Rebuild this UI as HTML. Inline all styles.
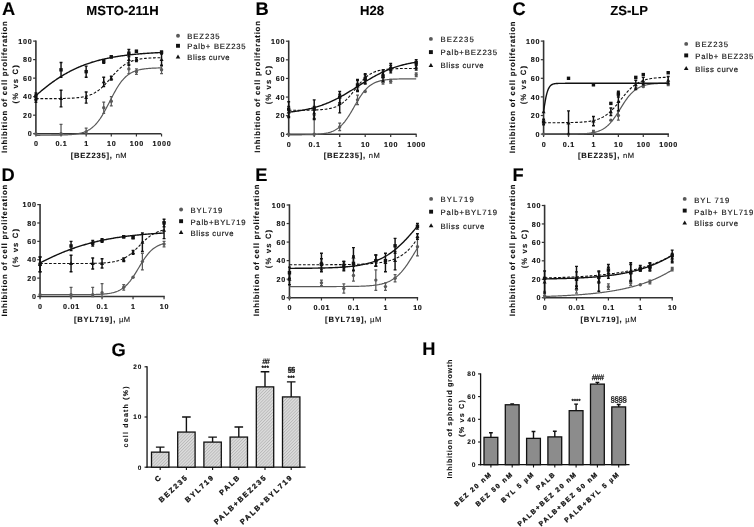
<!DOCTYPE html><html><head><meta charset="utf-8"><style>html,body{margin:0;padding:0;background:#fff;width:754px;height:527px;overflow:hidden}svg{display:block;will-change:transform}</style></head><body><svg width="754" height="527" viewBox="0 0 754 527" font-family='"Liberation Sans", sans-serif' style="text-rendering:geometricPrecision">
<defs><pattern id="hatch" patternUnits="userSpaceOnUse" width="2.2" height="2.2" patternTransform="rotate(45)"><rect width="2.2" height="2.2" fill="#dcdcdc"/><rect width="0.8" height="2.2" fill="#b8b8b8"/></pattern></defs>
<style>text{stroke:#111;stroke-width:0.12px}</style>
<rect width="754" height="527" fill="#ffffff"/>
<text x="1.90" y="14.90" font-size="18.30" font-weight="bold" text-anchor="start" letter-spacing="0.00" fill="#000">A</text>
<text x="255.40" y="14.90" font-size="18.30" font-weight="bold" text-anchor="start" letter-spacing="0.00" fill="#000">B</text>
<text x="512.60" y="14.90" font-size="18.30" font-weight="bold" text-anchor="start" letter-spacing="0.00" fill="#000">C</text>
<text x="1.45" y="180.70" font-size="18.30" font-weight="bold" text-anchor="start" letter-spacing="0.00" fill="#000">D</text>
<text x="255.15" y="180.70" font-size="18.30" font-weight="bold" text-anchor="start" letter-spacing="0.00" fill="#000">E</text>
<text x="512.55" y="180.70" font-size="18.30" font-weight="bold" text-anchor="start" letter-spacing="0.00" fill="#000">F</text>
<text x="111.40" y="355.60" font-size="18.30" font-weight="bold" text-anchor="start" letter-spacing="0.00" fill="#000">G</text>
<text x="422.25" y="355.20" font-size="18.30" font-weight="bold" text-anchor="start" letter-spacing="0.00" fill="#000">H</text>
<text x="122.50" y="14.90" font-size="13.10" font-weight="bold" text-anchor="middle" letter-spacing="0.00" fill="#000">MSTO-211H</text>
<text x="372.00" y="14.90" font-size="13.10" font-weight="bold" text-anchor="middle" letter-spacing="0.00" fill="#000">H28</text>
<text x="629.20" y="14.90" font-size="13.10" font-weight="bold" text-anchor="middle" letter-spacing="0.00" fill="#000">ZS-LP</text>
<path d="M35.90 40.40 V134.50" stroke="#333" stroke-width="1.6" fill="none"/>
<path d="M33.10 133.70 H35.90" stroke="#333" stroke-width="1.2"/>
<text x="32.50" y="136.30" font-size="7.20" font-weight="bold" text-anchor="end" letter-spacing="0.75" fill="#111">0</text>
<path d="M33.10 115.18 H35.90" stroke="#333" stroke-width="1.2"/>
<text x="32.50" y="117.78" font-size="7.20" font-weight="bold" text-anchor="end" letter-spacing="0.75" fill="#111">20</text>
<path d="M33.10 96.66 H35.90" stroke="#333" stroke-width="1.2"/>
<text x="32.50" y="99.26" font-size="7.20" font-weight="bold" text-anchor="end" letter-spacing="0.75" fill="#111">40</text>
<path d="M33.10 78.14 H35.90" stroke="#333" stroke-width="1.2"/>
<text x="32.50" y="80.74" font-size="7.20" font-weight="bold" text-anchor="end" letter-spacing="0.75" fill="#111">60</text>
<path d="M33.10 59.62 H35.90" stroke="#333" stroke-width="1.2"/>
<text x="32.50" y="62.22" font-size="7.20" font-weight="bold" text-anchor="end" letter-spacing="0.75" fill="#111">80</text>
<path d="M33.10 41.10 H35.90" stroke="#333" stroke-width="1.2"/>
<text x="32.50" y="43.70" font-size="7.20" font-weight="bold" text-anchor="end" letter-spacing="0.75" fill="#111">100</text>
<path d="M35.10 133.70 H161.20" stroke="#333" stroke-width="1.6"/>
<path d="M35.90 133.70 V136.50" stroke="#333" stroke-width="1.2"/>
<text x="36.30" y="146.20" font-size="7.20" font-weight="bold" text-anchor="middle" letter-spacing="0.70" fill="#111">0</text>
<path d="M61.03 133.70 V136.50" stroke="#333" stroke-width="1.2"/>
<text x="61.43" y="146.20" font-size="7.20" font-weight="bold" text-anchor="middle" letter-spacing="0.70" fill="#111">0.1</text>
<path d="M86.16 133.70 V136.50" stroke="#333" stroke-width="1.2"/>
<text x="86.56" y="146.20" font-size="7.20" font-weight="bold" text-anchor="middle" letter-spacing="0.70" fill="#111">1</text>
<path d="M111.29 133.70 V136.50" stroke="#333" stroke-width="1.2"/>
<text x="111.69" y="146.20" font-size="7.20" font-weight="bold" text-anchor="middle" letter-spacing="0.70" fill="#111">10</text>
<path d="M136.42 133.70 V136.50" stroke="#333" stroke-width="1.2"/>
<text x="136.82" y="146.20" font-size="7.20" font-weight="bold" text-anchor="middle" letter-spacing="0.70" fill="#111">100</text>
<path d="M161.55 133.70 V136.50" stroke="#333" stroke-width="1.2"/>
<text x="161.95" y="146.20" font-size="7.20" font-weight="bold" text-anchor="middle" letter-spacing="0.70" fill="#111">1000</text>
<text x="70.70" y="158.20" font-size="7.6" letter-spacing="0.78" fill="#111"><tspan font-weight="bold">[BEZ235], </tspan><tspan letter-spacing="0.5">nM</tspan></text>
<text transform="translate(6.90 87.15) rotate(-90)" font-size="7.7" font-weight="bold" text-anchor="middle" textLength="131.6" lengthAdjust="spacing" fill="#111">Inhibition of cell proliferation</text>
<text transform="translate(18.00 84.40) rotate(-90)" font-size="7.7" font-weight="bold" text-anchor="middle" textLength="38.3" lengthAdjust="spacing" fill="#111">(% vs C)</text>
<path d="M35.90 135.28 L36.69 135.28 L37.48 135.28 L38.27 135.28 L39.06 135.28 L39.85 135.28 L40.64 135.27 L41.43 135.27 L42.22 135.27 L43.01 135.27 L43.80 135.27 L44.59 135.26 L45.38 135.26 L46.17 135.26 L46.96 135.25 L47.75 135.25 L48.54 135.24 L49.33 135.24 L50.12 135.23 L50.91 135.23 L51.71 135.22 L52.50 135.21 L53.29 135.20 L54.08 135.19 L54.87 135.18 L55.66 135.17 L56.45 135.16 L57.24 135.15 L58.03 135.14 L58.82 135.12 L59.61 135.10 L60.40 135.08 L61.19 135.06 L61.98 135.04 L62.77 135.02 L63.56 134.99 L64.35 134.96 L65.14 134.93 L65.93 134.89 L66.72 134.85 L67.51 134.81 L68.30 134.77 L69.09 134.71 L69.88 134.66 L70.67 134.60 L71.46 134.53 L72.25 134.46 L73.04 134.38 L73.83 134.29 L74.62 134.20 L75.41 134.09 L76.20 133.98 L76.99 133.85 L77.78 133.72 L78.57 133.57 L79.36 133.40 L80.15 133.23 L80.94 133.03 L81.73 132.82 L82.52 132.59 L83.32 132.34 L84.11 132.07 L84.90 131.78 L85.69 131.46 L86.48 131.11 L87.27 130.73 L88.06 130.32 L88.85 129.88 L89.64 129.40 L90.43 128.89 L91.22 128.33 L92.01 127.73 L92.80 127.09 L93.59 126.40 L94.38 125.66 L95.17 124.87 L95.96 124.03 L96.75 123.14 L97.54 122.19 L98.33 121.19 L99.12 120.13 L99.91 119.02 L100.70 117.85 L101.49 116.63 L102.28 115.36 L103.07 114.04 L103.86 112.67 L104.65 111.26 L105.44 109.82 L106.23 108.34 L107.02 106.83 L107.81 105.30 L108.60 103.75 L109.39 102.20 L110.18 100.64 L110.97 99.08 L111.76 97.54 L112.55 96.01 L113.34 94.51 L114.13 93.03 L114.93 91.59 L115.72 90.18 L116.51 88.82 L117.30 87.51 L118.09 86.24 L118.88 85.03 L119.67 83.87 L120.46 82.76 L121.25 81.71 L122.04 80.72 L122.83 79.78 L123.62 78.89 L124.41 78.06 L125.20 77.28 L125.99 76.54 L126.78 75.86 L127.57 75.22 L128.36 74.63 L129.15 74.08 L129.94 73.57 L130.73 73.10 L131.52 72.66 L132.31 72.25 L133.10 71.88 L133.89 71.54 L134.68 71.22 L135.47 70.93 L136.26 70.66 L137.05 70.41 L137.84 70.18 L138.63 69.97 L139.42 69.78 L140.21 69.61 L141.00 69.45 L141.79 69.30 L142.58 69.17 L143.37 69.04 L144.16 68.93 L144.95 68.83 L145.74 68.73 L146.54 68.64 L147.33 68.57 L148.12 68.49 L148.91 68.43 L149.70 68.37 L150.49 68.31 L151.28 68.26 L152.07 68.22 L152.86 68.17 L153.65 68.14 L154.44 68.10 L155.23 68.07 L156.02 68.04 L156.81 68.01 L157.60 67.99 L158.39 67.97 L159.18 67.95 L159.97 67.93 L160.76 67.91 L161.55 67.90" fill="none" stroke="#595959" stroke-width="1.20"/>
<circle cx="35.90" cy="133.70" r="1.70" fill="#595959"/>
<path d="M61.03 124.44 V133.70 M59.58 124.44 H62.48 M59.58 133.70 H62.48" stroke="#595959" stroke-width="1.25" fill="none"/>
<circle cx="61.03" cy="133.70" r="1.70" fill="#595959"/>
<path d="M86.16 128.14 V133.70 M84.71 128.14 H87.61 M84.71 133.70 H87.61" stroke="#595959" stroke-width="1.25" fill="none"/>
<circle cx="86.16" cy="131.85" r="1.70" fill="#595959"/>
<path d="M103.73 102.22 V113.33 M102.28 102.22 H105.18 M102.28 113.33 H105.18" stroke="#595959" stroke-width="1.25" fill="none"/>
<circle cx="103.73" cy="107.77" r="1.70" fill="#595959"/>
<path d="M111.29 96.66 V105.92 M109.84 96.66 H112.74 M109.84 105.92 H112.74" stroke="#595959" stroke-width="1.25" fill="none"/>
<circle cx="111.29" cy="101.29" r="1.70" fill="#595959"/>
<path d="M128.86 64.25 V73.51 M127.41 64.25 H130.31 M127.41 73.51 H130.31" stroke="#595959" stroke-width="1.25" fill="none"/>
<circle cx="128.86" cy="68.88" r="1.70" fill="#595959"/>
<path d="M136.42 68.88 V74.44 M134.97 68.88 H137.87 M134.97 74.44 H137.87" stroke="#595959" stroke-width="1.25" fill="none"/>
<circle cx="136.42" cy="71.66" r="1.70" fill="#595959"/>
<path d="M161.55 66.10 V73.51 M160.10 66.10 H163.00 M160.10 73.51 H163.00" stroke="#595959" stroke-width="1.25" fill="none"/>
<circle cx="161.55" cy="69.81" r="1.70" fill="#595959"/>
<path d="M35.90 98.66 L36.69 98.66 L37.48 98.66 L38.27 98.66 L39.06 98.66 L39.85 98.65 L40.64 98.65 L41.43 98.65 L42.22 98.65 L43.01 98.65 L43.80 98.65 L44.59 98.64 L45.38 98.64 L46.17 98.64 L46.96 98.64 L47.75 98.63 L48.54 98.63 L49.33 98.63 L50.12 98.62 L50.91 98.62 L51.71 98.61 L52.50 98.61 L53.29 98.60 L54.08 98.60 L54.87 98.59 L55.66 98.58 L56.45 98.58 L57.24 98.57 L58.03 98.56 L58.82 98.55 L59.61 98.54 L60.40 98.52 L61.19 98.51 L61.98 98.50 L62.77 98.48 L63.56 98.46 L64.35 98.44 L65.14 98.42 L65.93 98.40 L66.72 98.38 L67.51 98.35 L68.30 98.32 L69.09 98.29 L69.88 98.25 L70.67 98.21 L71.46 98.17 L72.25 98.13 L73.04 98.08 L73.83 98.02 L74.62 97.96 L75.41 97.90 L76.20 97.83 L76.99 97.75 L77.78 97.67 L78.57 97.58 L79.36 97.48 L80.15 97.38 L80.94 97.26 L81.73 97.14 L82.52 97.00 L83.32 96.85 L84.11 96.69 L84.90 96.52 L85.69 96.33 L86.48 96.13 L87.27 95.91 L88.06 95.67 L88.85 95.41 L89.64 95.14 L90.43 94.84 L91.22 94.52 L92.01 94.18 L92.80 93.81 L93.59 93.42 L94.38 93.00 L95.17 92.55 L95.96 92.07 L96.75 91.57 L97.54 91.03 L98.33 90.46 L99.12 89.87 L99.91 89.24 L100.70 88.58 L101.49 87.89 L102.28 87.17 L103.07 86.42 L103.86 85.64 L104.65 84.84 L105.44 84.02 L106.23 83.17 L107.02 82.30 L107.81 81.42 L108.60 80.53 L109.39 79.63 L110.18 78.72 L110.97 77.81 L111.76 76.90 L112.55 75.99 L113.34 75.09 L114.13 74.21 L114.93 73.34 L115.72 72.48 L116.51 71.65 L117.30 70.84 L118.09 70.06 L118.88 69.30 L119.67 68.57 L120.46 67.87 L121.25 67.20 L122.04 66.56 L122.83 65.95 L123.62 65.37 L124.41 64.83 L125.20 64.31 L125.99 63.82 L126.78 63.37 L127.57 62.94 L128.36 62.53 L129.15 62.16 L129.94 61.81 L130.73 61.48 L131.52 61.18 L132.31 60.89 L133.10 60.63 L133.89 60.39 L134.68 60.16 L135.47 59.95 L136.26 59.76 L137.05 59.58 L137.84 59.42 L138.63 59.26 L139.42 59.12 L140.21 58.99 L141.00 58.87 L141.79 58.77 L142.58 58.66 L143.37 58.57 L144.16 58.49 L144.95 58.41 L145.74 58.34 L146.54 58.27 L147.33 58.21 L148.12 58.15 L148.91 58.10 L149.70 58.06 L150.49 58.01 L151.28 57.97 L152.07 57.94 L152.86 57.91 L153.65 57.87 L154.44 57.85 L155.23 57.82 L156.02 57.80 L156.81 57.78 L157.60 57.76 L158.39 57.74 L159.18 57.72 L159.97 57.71 L160.76 57.69 L161.55 57.68" fill="none" stroke="#111111" stroke-width="1.10" stroke-dasharray="2.8 1.7"/>
<path d="M35.90 94.81 V102.22 M34.45 94.81 H37.35 M34.45 102.22 H37.35" stroke="#111111" stroke-width="1.45" fill="none"/>
<path d="M35.90 96.41 L33.90 100.01 L37.90 100.01 Z" fill="#111111"/>
<path d="M61.03 90.18 V106.85 M59.58 90.18 H62.48 M59.58 106.85 H62.48" stroke="#111111" stroke-width="1.45" fill="none"/>
<path d="M61.03 96.41 L59.03 100.01 L63.03 100.01 Z" fill="#111111"/>
<path d="M86.16 92.03 V103.14 M84.71 92.03 H87.61 M84.71 103.14 H87.61" stroke="#111111" stroke-width="1.45" fill="none"/>
<path d="M86.16 95.49 L84.16 99.09 L88.16 99.09 Z" fill="#111111"/>
<path d="M103.73 77.21 V86.47 M102.28 77.21 H105.18 M102.28 86.47 H105.18" stroke="#111111" stroke-width="1.45" fill="none"/>
<path d="M103.73 79.74 L101.73 83.34 L105.73 83.34 Z" fill="#111111"/>
<path d="M111.29 76.29 V79.99 M109.84 76.29 H112.74 M109.84 79.99 H112.74" stroke="#111111" stroke-width="1.45" fill="none"/>
<path d="M111.29 76.04 L109.29 79.64 L113.29 79.64 Z" fill="#111111"/>
<path d="M128.86 54.06 V65.18 M127.41 54.06 H130.31 M127.41 65.18 H130.31" stroke="#111111" stroke-width="1.45" fill="none"/>
<path d="M128.86 57.52 L126.86 61.12 L130.86 61.12 Z" fill="#111111"/>
<path d="M136.42 57.77 V61.47 M134.97 57.77 H137.87 M134.97 61.47 H137.87" stroke="#111111" stroke-width="1.45" fill="none"/>
<path d="M136.42 57.52 L134.42 61.12 L138.42 61.12 Z" fill="#111111"/>
<path d="M161.55 54.06 V65.18 M160.10 54.06 H163.00 M160.10 65.18 H163.00" stroke="#111111" stroke-width="1.45" fill="none"/>
<path d="M161.55 57.52 L159.55 61.12 L163.55 61.12 Z" fill="#111111"/>
<path d="M35.90 95.61 L36.69 94.91 L37.48 94.21 L38.27 93.52 L39.06 92.84 L39.85 92.16 L40.64 91.49 L41.43 90.82 L42.22 90.16 L43.01 89.51 L43.80 88.86 L44.59 88.22 L45.38 87.59 L46.17 86.96 L46.96 86.34 L47.75 85.73 L48.54 85.12 L49.33 84.52 L50.12 83.92 L50.91 83.34 L51.71 82.76 L52.50 82.18 L53.29 81.62 L54.08 81.06 L54.87 80.51 L55.66 79.97 L56.45 79.43 L57.24 78.90 L58.03 78.38 L58.82 77.86 L59.61 77.35 L60.40 76.85 L61.19 76.36 L61.98 75.87 L62.77 75.39 L63.56 74.92 L64.35 74.46 L65.14 74.00 L65.93 73.55 L66.72 73.10 L67.51 72.67 L68.30 72.24 L69.09 71.81 L69.88 71.40 L70.67 70.99 L71.46 70.58 L72.25 70.19 L73.04 69.80 L73.83 69.42 L74.62 69.04 L75.41 68.67 L76.20 68.31 L76.99 67.95 L77.78 67.60 L78.57 67.25 L79.36 66.92 L80.15 66.58 L80.94 66.26 L81.73 65.94 L82.52 65.62 L83.32 65.31 L84.11 65.01 L84.90 64.71 L85.69 64.42 L86.48 64.14 L87.27 63.86 L88.06 63.58 L88.85 63.31 L89.64 63.05 L90.43 62.79 L91.22 62.53 L92.01 62.28 L92.80 62.04 L93.59 61.80 L94.38 61.56 L95.17 61.33 L95.96 61.11 L96.75 60.89 L97.54 60.67 L98.33 60.46 L99.12 60.25 L99.91 60.05 L100.70 59.85 L101.49 59.65 L102.28 59.46 L103.07 59.27 L103.86 59.09 L104.65 58.91 L105.44 58.73 L106.23 58.56 L107.02 58.39 L107.81 58.23 L108.60 58.07 L109.39 57.91 L110.18 57.75 L110.97 57.60 L111.76 57.45 L112.55 57.31 L113.34 57.17 L114.13 57.03 L114.93 56.89 L115.72 56.76 L116.51 56.63 L117.30 56.50 L118.09 56.38 L118.88 56.26 L119.67 56.14 L120.46 56.02 L121.25 55.91 L122.04 55.79 L122.83 55.69 L123.62 55.58 L124.41 55.48 L125.20 55.37 L125.99 55.27 L126.78 55.18 L127.57 55.08 L128.36 54.99 L129.15 54.90 L129.94 54.81 L130.73 54.72 L131.52 54.64 L132.31 54.55 L133.10 54.47 L133.89 54.39 L134.68 54.32 L135.47 54.24 L136.26 54.17 L137.05 54.09 L137.84 54.02 L138.63 53.95 L139.42 53.89 L140.21 53.82 L141.00 53.76 L141.79 53.69 L142.58 53.63 L143.37 53.57 L144.16 53.51 L144.95 53.45 L145.74 53.40 L146.54 53.34 L147.33 53.29 L148.12 53.24 L148.91 53.19 L149.70 53.14 L150.49 53.09 L151.28 53.04 L152.07 52.99 L152.86 52.95 L153.65 52.90 L154.44 52.86 L155.23 52.82 L156.02 52.78 L156.81 52.74 L157.60 52.70 L158.39 52.66 L159.18 52.62 L159.97 52.58 L160.76 52.55 L161.55 52.51" fill="none" stroke="#111111" stroke-width="1.40"/>
<path d="M35.90 92.96 V100.36 M34.45 92.96 H37.35 M34.45 100.36 H37.35" stroke="#111111" stroke-width="1.45" fill="none"/>
<rect x="34.20" y="94.96" width="3.40" height="3.40" fill="#111111"/>
<path d="M61.03 62.40 V77.21 M59.58 62.40 H62.48 M59.58 77.21 H62.48" stroke="#111111" stroke-width="1.45" fill="none"/>
<rect x="59.33" y="68.11" width="3.40" height="3.40" fill="#111111"/>
<path d="M86.16 66.10 V77.21 M84.71 66.10 H87.61 M84.71 77.21 H87.61" stroke="#111111" stroke-width="1.45" fill="none"/>
<rect x="84.46" y="69.96" width="3.40" height="3.40" fill="#111111"/>
<path d="M103.73 59.62 V63.32 M102.28 59.62 H105.18 M102.28 63.32 H105.18" stroke="#111111" stroke-width="1.45" fill="none"/>
<rect x="102.03" y="59.77" width="3.40" height="3.40" fill="#111111"/>
<path d="M111.29 55.92 V57.77 M109.84 55.92 H112.74 M109.84 57.77 H112.74" stroke="#111111" stroke-width="1.45" fill="none"/>
<rect x="109.59" y="55.14" width="3.40" height="3.40" fill="#111111"/>
<path d="M128.86 49.43 V56.84 M127.41 49.43 H130.31 M127.41 56.84 H130.31" stroke="#111111" stroke-width="1.45" fill="none"/>
<rect x="127.16" y="51.44" width="3.40" height="3.40" fill="#111111"/>
<path d="M136.42 50.36 V52.21 M134.97 50.36 H137.87 M134.97 52.21 H137.87" stroke="#111111" stroke-width="1.45" fill="none"/>
<rect x="134.72" y="49.59" width="3.40" height="3.40" fill="#111111"/>
<path d="M161.55 51.29 V53.14 M160.10 51.29 H163.00 M160.10 53.14 H163.00" stroke="#111111" stroke-width="1.45" fill="none"/>
<rect x="159.85" y="50.51" width="3.40" height="3.40" fill="#111111"/>
<circle cx="178.00" cy="35.80" r="1.95" fill="#595959"/>
<text x="187.30" y="38.90" font-size="7.7" textLength="32.30" lengthAdjust="spacing" fill="#1a1a1a" style="stroke-width:0.18px">BEZ235</text>
<rect x="176.04" y="43.84" width="3.91" height="3.91" fill="#111111"/>
<text x="187.30" y="49.40" font-size="7.7" textLength="58.20" lengthAdjust="spacing" fill="#1a1a1a" style="stroke-width:0.18px">Palb+ BEZ235</text>
<path d="M178.00 54.38 L175.70 58.52 L180.30 58.52 Z" fill="#111111"/>
<text x="187.30" y="59.50" font-size="7.7" textLength="42.30" lengthAdjust="spacing" fill="#1a1a1a" style="stroke-width:0.18px">Bliss curve</text>
<path d="M288.70 40.50 V135.10" stroke="#333" stroke-width="1.6" fill="none"/>
<path d="M285.90 134.30 H288.70" stroke="#333" stroke-width="1.2"/>
<text x="285.30" y="136.90" font-size="7.20" font-weight="bold" text-anchor="end" letter-spacing="0.75" fill="#111">0</text>
<path d="M285.90 115.68 H288.70" stroke="#333" stroke-width="1.2"/>
<text x="285.30" y="118.28" font-size="7.20" font-weight="bold" text-anchor="end" letter-spacing="0.75" fill="#111">20</text>
<path d="M285.90 97.06 H288.70" stroke="#333" stroke-width="1.2"/>
<text x="285.30" y="99.66" font-size="7.20" font-weight="bold" text-anchor="end" letter-spacing="0.75" fill="#111">40</text>
<path d="M285.90 78.44 H288.70" stroke="#333" stroke-width="1.2"/>
<text x="285.30" y="81.04" font-size="7.20" font-weight="bold" text-anchor="end" letter-spacing="0.75" fill="#111">60</text>
<path d="M285.90 59.82 H288.70" stroke="#333" stroke-width="1.2"/>
<text x="285.30" y="62.42" font-size="7.20" font-weight="bold" text-anchor="end" letter-spacing="0.75" fill="#111">80</text>
<path d="M285.90 41.20 H288.70" stroke="#333" stroke-width="1.2"/>
<text x="285.30" y="43.80" font-size="7.20" font-weight="bold" text-anchor="end" letter-spacing="0.75" fill="#111">100</text>
<path d="M287.90 134.30 H416.60" stroke="#333" stroke-width="1.6"/>
<path d="M288.70 134.30 V137.10" stroke="#333" stroke-width="1.2"/>
<text x="289.10" y="146.80" font-size="7.20" font-weight="bold" text-anchor="middle" letter-spacing="0.70" fill="#111">0</text>
<path d="M314.20 134.30 V137.10" stroke="#333" stroke-width="1.2"/>
<text x="314.60" y="146.80" font-size="7.20" font-weight="bold" text-anchor="middle" letter-spacing="0.70" fill="#111">0.1</text>
<path d="M339.70 134.30 V137.10" stroke="#333" stroke-width="1.2"/>
<text x="340.10" y="146.80" font-size="7.20" font-weight="bold" text-anchor="middle" letter-spacing="0.70" fill="#111">1</text>
<path d="M365.20 134.30 V137.10" stroke="#333" stroke-width="1.2"/>
<text x="365.60" y="146.80" font-size="7.20" font-weight="bold" text-anchor="middle" letter-spacing="0.70" fill="#111">10</text>
<path d="M390.70 134.30 V137.10" stroke="#333" stroke-width="1.2"/>
<text x="391.10" y="146.80" font-size="7.20" font-weight="bold" text-anchor="middle" letter-spacing="0.70" fill="#111">100</text>
<path d="M416.20 134.30 V137.10" stroke="#333" stroke-width="1.2"/>
<text x="416.60" y="146.80" font-size="7.20" font-weight="bold" text-anchor="middle" letter-spacing="0.70" fill="#111">1000</text>
<text x="323.80" y="158.40" font-size="7.6" letter-spacing="0.78" fill="#111"><tspan font-weight="bold">[BEZ235], </tspan><tspan letter-spacing="0.5">nM</tspan></text>
<text transform="translate(259.60 86.95) rotate(-90)" font-size="7.7" font-weight="bold" text-anchor="middle" textLength="131.6" lengthAdjust="spacing" fill="#111">Inhibition of cell proliferation</text>
<text transform="translate(270.80 85.20) rotate(-90)" font-size="7.7" font-weight="bold" text-anchor="middle" textLength="38.3" lengthAdjust="spacing" fill="#111">(% vs C)</text>
<path d="M288.70 134.84 L289.50 134.84 L290.30 134.83 L291.11 134.83 L291.91 134.83 L292.71 134.83 L293.51 134.83 L294.31 134.82 L295.12 134.82 L295.92 134.82 L296.72 134.81 L297.52 134.81 L298.32 134.80 L299.12 134.80 L299.93 134.79 L300.73 134.78 L301.53 134.78 L302.33 134.77 L303.13 134.76 L303.94 134.75 L304.74 134.74 L305.54 134.72 L306.34 134.71 L307.14 134.70 L307.95 134.68 L308.75 134.66 L309.55 134.64 L310.35 134.62 L311.15 134.59 L311.95 134.57 L312.76 134.54 L313.56 134.50 L314.36 134.47 L315.16 134.43 L315.96 134.38 L316.77 134.33 L317.57 134.28 L318.37 134.22 L319.17 134.15 L319.97 134.08 L320.78 134.00 L321.58 133.91 L322.38 133.81 L323.18 133.70 L323.98 133.58 L324.78 133.45 L325.59 133.31 L326.39 133.15 L327.19 132.98 L327.99 132.79 L328.79 132.58 L329.60 132.35 L330.40 132.10 L331.20 131.83 L332.00 131.53 L332.80 131.21 L333.61 130.85 L334.41 130.46 L335.21 130.04 L336.01 129.58 L336.81 129.08 L337.62 128.54 L338.42 127.96 L339.22 127.33 L340.02 126.66 L340.82 125.93 L341.62 125.15 L342.43 124.32 L343.23 123.44 L344.03 122.51 L344.83 121.52 L345.63 120.47 L346.44 119.38 L347.24 118.23 L348.04 117.04 L348.84 115.80 L349.64 114.52 L350.45 113.21 L351.25 111.87 L352.05 110.50 L352.85 109.11 L353.65 107.71 L354.45 106.31 L355.26 104.91 L356.06 103.52 L356.86 102.15 L357.66 100.80 L358.46 99.47 L359.27 98.19 L360.07 96.94 L360.87 95.73 L361.67 94.57 L362.47 93.46 L363.28 92.40 L364.08 91.40 L364.88 90.44 L365.68 89.55 L366.48 88.70 L367.28 87.91 L368.09 87.17 L368.89 86.48 L369.69 85.84 L370.49 85.25 L371.29 84.69 L372.10 84.18 L372.90 83.71 L373.70 83.28 L374.50 82.88 L375.30 82.52 L376.11 82.18 L376.91 81.88 L377.71 81.60 L378.51 81.34 L379.31 81.11 L380.12 80.89 L380.92 80.70 L381.72 80.52 L382.52 80.36 L383.32 80.21 L384.12 80.08 L384.93 79.95 L385.73 79.84 L386.53 79.74 L387.33 79.65 L388.13 79.57 L388.94 79.49 L389.74 79.43 L390.54 79.37 L391.34 79.31 L392.14 79.26 L392.95 79.21 L393.75 79.17 L394.55 79.13 L395.35 79.10 L396.15 79.07 L396.95 79.04 L397.76 79.01 L398.56 78.99 L399.36 78.97 L400.16 78.95 L400.96 78.93 L401.77 78.92 L402.57 78.90 L403.37 78.89 L404.17 78.88 L404.97 78.87 L405.78 78.86 L406.58 78.85 L407.38 78.84 L408.18 78.84 L408.98 78.83 L409.78 78.83 L410.59 78.82 L411.39 78.82 L412.19 78.81 L412.99 78.81 L413.79 78.80 L414.60 78.80 L415.40 78.80 L416.20 78.80" fill="none" stroke="#595959" stroke-width="1.20"/>
<circle cx="288.70" cy="134.30" r="1.70" fill="#595959"/>
<path d="M314.20 115.68 V134.30 M312.75 115.68 H315.65 M312.75 134.30 H315.65" stroke="#595959" stroke-width="1.25" fill="none"/>
<circle cx="314.20" cy="134.30" r="1.70" fill="#595959"/>
<path d="M339.70 123.13 V130.58 M338.25 123.13 H341.15 M338.25 130.58 H341.15" stroke="#595959" stroke-width="1.25" fill="none"/>
<circle cx="339.70" cy="126.85" r="1.70" fill="#595959"/>
<path d="M357.52 95.20 V104.51 M356.07 95.20 H358.97 M356.07 104.51 H358.97" stroke="#595959" stroke-width="1.25" fill="none"/>
<circle cx="357.52" cy="99.85" r="1.70" fill="#595959"/>
<circle cx="365.20" cy="91.47" r="1.70" fill="#595959"/>
<path d="M383.02 80.30 V84.03 M381.57 80.30 H384.47 M381.57 84.03 H384.47" stroke="#595959" stroke-width="1.25" fill="none"/>
<circle cx="383.02" cy="82.16" r="1.70" fill="#595959"/>
<path d="M390.70 79.37 V83.09 M389.25 79.37 H392.15 M389.25 83.09 H392.15" stroke="#595959" stroke-width="1.25" fill="none"/>
<circle cx="390.70" cy="81.23" r="1.70" fill="#595959"/>
<path d="M416.20 72.85 V76.58 M414.75 72.85 H417.65 M414.75 76.58 H417.65" stroke="#595959" stroke-width="1.25" fill="none"/>
<circle cx="416.20" cy="74.72" r="1.70" fill="#595959"/>
<path d="M288.70 110.26 L289.50 110.26 L290.30 110.25 L291.11 110.25 L291.91 110.25 L292.71 110.25 L293.51 110.25 L294.31 110.25 L295.12 110.24 L295.92 110.24 L296.72 110.24 L297.52 110.23 L298.32 110.23 L299.12 110.23 L299.93 110.22 L300.73 110.22 L301.53 110.21 L302.33 110.21 L303.13 110.20 L303.94 110.19 L304.74 110.18 L305.54 110.18 L306.34 110.17 L307.14 110.16 L307.95 110.14 L308.75 110.13 L309.55 110.12 L310.35 110.10 L311.15 110.08 L311.95 110.06 L312.76 110.04 L313.56 110.02 L314.36 110.00 L315.16 109.97 L315.96 109.94 L316.77 109.90 L317.57 109.86 L318.37 109.82 L319.17 109.78 L319.97 109.73 L320.78 109.67 L321.58 109.61 L322.38 109.54 L323.18 109.47 L323.98 109.39 L324.78 109.30 L325.59 109.20 L326.39 109.09 L327.19 108.97 L327.99 108.84 L328.79 108.70 L329.60 108.54 L330.40 108.37 L331.20 108.19 L332.00 107.98 L332.80 107.76 L333.61 107.52 L334.41 107.25 L335.21 106.96 L336.01 106.65 L336.81 106.31 L337.62 105.94 L338.42 105.54 L339.22 105.11 L340.02 104.65 L340.82 104.15 L341.62 103.62 L342.43 103.05 L343.23 102.44 L344.03 101.79 L344.83 101.10 L345.63 100.38 L346.44 99.61 L347.24 98.81 L348.04 97.97 L348.84 97.09 L349.64 96.19 L350.45 95.25 L351.25 94.28 L352.05 93.30 L352.85 92.29 L353.65 91.27 L354.45 90.25 L355.26 89.21 L356.06 88.18 L356.86 87.16 L357.66 86.14 L358.46 85.14 L359.27 84.16 L360.07 83.20 L360.87 82.27 L361.67 81.37 L362.47 80.50 L363.28 79.67 L364.08 78.88 L364.88 78.12 L365.68 77.41 L366.48 76.73 L367.28 76.09 L368.09 75.49 L368.89 74.93 L369.69 74.40 L370.49 73.91 L371.29 73.46 L372.10 73.04 L372.90 72.64 L373.70 72.28 L374.50 71.95 L375.30 71.64 L376.11 71.36 L376.91 71.10 L377.71 70.86 L378.51 70.64 L379.31 70.44 L380.12 70.26 L380.92 70.09 L381.72 69.94 L382.52 69.80 L383.32 69.67 L384.12 69.56 L384.93 69.45 L385.73 69.36 L386.53 69.27 L387.33 69.19 L388.13 69.12 L388.94 69.05 L389.74 68.99 L390.54 68.94 L391.34 68.89 L392.14 68.84 L392.95 68.80 L393.75 68.77 L394.55 68.73 L395.35 68.70 L396.15 68.68 L396.95 68.65 L397.76 68.63 L398.56 68.61 L399.36 68.59 L400.16 68.57 L400.96 68.56 L401.77 68.54 L402.57 68.53 L403.37 68.52 L404.17 68.51 L404.97 68.50 L405.78 68.49 L406.58 68.48 L407.38 68.48 L408.18 68.47 L408.98 68.46 L409.78 68.46 L410.59 68.45 L411.39 68.45 L412.19 68.45 L412.99 68.44 L413.79 68.44 L414.60 68.44 L415.40 68.43 L416.20 68.43" fill="none" stroke="#111111" stroke-width="1.10" stroke-dasharray="2.8 1.7"/>
<path d="M288.70 106.37 V117.54 M287.25 106.37 H290.15 M287.25 117.54 H290.15" stroke="#111111" stroke-width="1.45" fill="none"/>
<path d="M288.70 109.86 L286.70 113.46 L290.70 113.46 Z" fill="#111111"/>
<path d="M314.20 106.37 V119.40 M312.75 106.37 H315.65 M312.75 119.40 H315.65" stroke="#111111" stroke-width="1.45" fill="none"/>
<path d="M314.20 110.79 L312.20 114.39 L316.20 114.39 Z" fill="#111111"/>
<path d="M339.70 94.27 V112.89 M338.25 94.27 H341.15 M338.25 112.89 H341.15" stroke="#111111" stroke-width="1.45" fill="none"/>
<path d="M339.70 101.48 L337.70 105.08 L341.70 105.08 Z" fill="#111111"/>
<path d="M357.52 80.30 V91.47 M356.07 80.30 H358.97 M356.07 91.47 H358.97" stroke="#111111" stroke-width="1.45" fill="none"/>
<path d="M357.52 83.79 L355.52 87.39 L359.52 87.39 Z" fill="#111111"/>
<path d="M365.20 74.72 V84.03 M363.75 74.72 H366.65 M363.75 84.03 H366.65" stroke="#111111" stroke-width="1.45" fill="none"/>
<path d="M365.20 77.27 L363.20 80.87 L367.20 80.87 Z" fill="#111111"/>
<path d="M383.02 70.06 V77.51 M381.57 70.06 H384.47 M381.57 77.51 H384.47" stroke="#111111" stroke-width="1.45" fill="none"/>
<path d="M383.02 71.69 L381.02 75.28 L385.02 75.28 Z" fill="#111111"/>
<path d="M390.70 63.54 V70.99 M389.25 63.54 H392.15 M389.25 70.99 H392.15" stroke="#111111" stroke-width="1.45" fill="none"/>
<path d="M390.70 65.17 L388.70 68.77 L392.70 68.77 Z" fill="#111111"/>
<path d="M416.20 64.48 V70.06 M414.75 64.48 H417.65 M414.75 70.06 H417.65" stroke="#111111" stroke-width="1.45" fill="none"/>
<path d="M416.20 65.17 L414.20 68.77 L418.20 68.77 Z" fill="#111111"/>
<path d="M288.70 112.16 L289.50 112.08 L290.30 111.99 L291.11 111.90 L291.91 111.81 L292.71 111.71 L293.51 111.61 L294.31 111.51 L295.12 111.40 L295.92 111.29 L296.72 111.18 L297.52 111.06 L298.32 110.94 L299.12 110.81 L299.93 110.68 L300.73 110.55 L301.53 110.42 L302.33 110.27 L303.13 110.13 L303.94 109.98 L304.74 109.82 L305.54 109.66 L306.34 109.50 L307.14 109.33 L307.95 109.16 L308.75 108.98 L309.55 108.79 L310.35 108.60 L311.15 108.41 L311.95 108.20 L312.76 108.00 L313.56 107.78 L314.36 107.57 L315.16 107.34 L315.96 107.11 L316.77 106.87 L317.57 106.63 L318.37 106.38 L319.17 106.12 L319.97 105.86 L320.78 105.59 L321.58 105.32 L322.38 105.03 L323.18 104.74 L323.98 104.45 L324.78 104.14 L325.59 103.83 L326.39 103.52 L327.19 103.19 L327.99 102.86 L328.79 102.52 L329.60 102.17 L330.40 101.82 L331.20 101.46 L332.00 101.10 L332.80 100.72 L333.61 100.34 L334.41 99.95 L335.21 99.56 L336.01 99.16 L336.81 98.75 L337.62 98.34 L338.42 97.92 L339.22 97.49 L340.02 97.06 L340.82 96.62 L341.62 96.18 L342.43 95.73 L343.23 95.27 L344.03 94.81 L344.83 94.35 L345.63 93.88 L346.44 93.40 L347.24 92.92 L348.04 92.44 L348.84 91.95 L349.64 91.46 L350.45 90.97 L351.25 90.48 L352.05 89.98 L352.85 89.48 L353.65 88.97 L354.45 88.47 L355.26 87.97 L356.06 87.46 L356.86 86.95 L357.66 86.45 L358.46 85.94 L359.27 85.43 L360.07 84.93 L360.87 84.42 L361.67 83.92 L362.47 83.42 L363.28 82.92 L364.08 82.42 L364.88 81.93 L365.68 81.43 L366.48 80.94 L367.28 80.46 L368.09 79.98 L368.89 79.50 L369.69 79.03 L370.49 78.56 L371.29 78.10 L372.10 77.64 L372.90 77.19 L373.70 76.74 L374.50 76.30 L375.30 75.86 L376.11 75.43 L376.91 75.00 L377.71 74.59 L378.51 74.17 L379.31 73.77 L380.12 73.37 L380.92 72.98 L381.72 72.59 L382.52 72.22 L383.32 71.84 L384.12 71.48 L384.93 71.12 L385.73 70.77 L386.53 70.43 L387.33 70.09 L388.13 69.76 L388.94 69.44 L389.74 69.13 L390.54 68.82 L391.34 68.52 L392.14 68.22 L392.95 67.94 L393.75 67.66 L394.55 67.38 L395.35 67.12 L396.15 66.86 L396.95 66.60 L397.76 66.36 L398.56 66.11 L399.36 65.88 L400.16 65.65 L400.96 65.43 L401.77 65.21 L402.57 65.00 L403.37 64.80 L404.17 64.60 L404.97 64.40 L405.78 64.21 L406.58 64.03 L407.38 63.85 L408.18 63.68 L408.98 63.51 L409.78 63.35 L410.59 63.19 L411.39 63.04 L412.19 62.89 L412.99 62.75 L413.79 62.61 L414.60 62.47 L415.40 62.34 L416.20 62.21" fill="none" stroke="#111111" stroke-width="1.40"/>
<path d="M288.70 101.72 V116.61 M287.25 101.72 H290.15 M287.25 116.61 H290.15" stroke="#111111" stroke-width="1.45" fill="none"/>
<rect x="287.00" y="107.46" width="3.40" height="3.40" fill="#111111"/>
<path d="M314.20 99.85 V118.47 M312.75 99.85 H315.65 M312.75 118.47 H315.65" stroke="#111111" stroke-width="1.45" fill="none"/>
<rect x="312.50" y="107.46" width="3.40" height="3.40" fill="#111111"/>
<path d="M339.70 91.47 V102.65 M338.25 91.47 H341.15 M338.25 102.65 H341.15" stroke="#111111" stroke-width="1.45" fill="none"/>
<rect x="338.00" y="95.36" width="3.40" height="3.40" fill="#111111"/>
<path d="M357.52 79.37 V90.54 M356.07 79.37 H358.97 M356.07 90.54 H358.97" stroke="#111111" stroke-width="1.45" fill="none"/>
<rect x="355.82" y="83.26" width="3.40" height="3.40" fill="#111111"/>
<path d="M365.20 73.78 V83.09 M363.75 73.78 H366.65 M363.75 83.09 H366.65" stroke="#111111" stroke-width="1.45" fill="none"/>
<rect x="363.50" y="76.74" width="3.40" height="3.40" fill="#111111"/>
<path d="M383.02 71.92 V81.23 M381.57 71.92 H384.47 M381.57 81.23 H384.47" stroke="#111111" stroke-width="1.45" fill="none"/>
<rect x="381.32" y="74.88" width="3.40" height="3.40" fill="#111111"/>
<path d="M390.70 65.41 V72.85 M389.25 65.41 H392.15 M389.25 72.85 H392.15" stroke="#111111" stroke-width="1.45" fill="none"/>
<rect x="389.00" y="67.43" width="3.40" height="3.40" fill="#111111"/>
<path d="M416.20 59.82 V65.41 M414.75 59.82 H417.65 M414.75 65.41 H417.65" stroke="#111111" stroke-width="1.45" fill="none"/>
<rect x="414.50" y="60.91" width="3.40" height="3.40" fill="#111111"/>
<circle cx="430.90" cy="38.90" r="1.95" fill="#595959"/>
<text x="440.40" y="42.30" font-size="7.7" textLength="33.40" lengthAdjust="spacing" fill="#1a1a1a" style="stroke-width:0.18px">BEZ235</text>
<rect x="428.94" y="50.15" width="3.91" height="3.91" fill="#111111"/>
<text x="440.40" y="55.40" font-size="7.7" textLength="56.60" lengthAdjust="spacing" fill="#1a1a1a" style="stroke-width:0.18px">Palb+BEZ235</text>
<path d="M430.90 62.99 L428.60 67.12 L433.20 67.12 Z" fill="#111111"/>
<text x="440.40" y="68.40" font-size="7.7" textLength="43.20" lengthAdjust="spacing" fill="#1a1a1a" style="stroke-width:0.18px">Bliss curve</text>
<path d="M543.60 40.40 V134.90" stroke="#333" stroke-width="1.6" fill="none"/>
<path d="M540.80 134.10 H543.60" stroke="#333" stroke-width="1.2"/>
<text x="540.20" y="136.70" font-size="7.20" font-weight="bold" text-anchor="end" letter-spacing="0.75" fill="#111">0</text>
<path d="M540.80 115.50 H543.60" stroke="#333" stroke-width="1.2"/>
<text x="540.20" y="118.10" font-size="7.20" font-weight="bold" text-anchor="end" letter-spacing="0.75" fill="#111">20</text>
<path d="M540.80 96.90 H543.60" stroke="#333" stroke-width="1.2"/>
<text x="540.20" y="99.50" font-size="7.20" font-weight="bold" text-anchor="end" letter-spacing="0.75" fill="#111">40</text>
<path d="M540.80 78.30 H543.60" stroke="#333" stroke-width="1.2"/>
<text x="540.20" y="80.90" font-size="7.20" font-weight="bold" text-anchor="end" letter-spacing="0.75" fill="#111">60</text>
<path d="M540.80 59.70 H543.60" stroke="#333" stroke-width="1.2"/>
<text x="540.20" y="62.30" font-size="7.20" font-weight="bold" text-anchor="end" letter-spacing="0.75" fill="#111">80</text>
<path d="M540.80 41.10 H543.60" stroke="#333" stroke-width="1.2"/>
<text x="540.20" y="43.70" font-size="7.20" font-weight="bold" text-anchor="end" letter-spacing="0.75" fill="#111">100</text>
<path d="M542.80 134.10 H668.90" stroke="#333" stroke-width="1.6"/>
<path d="M543.60 134.10 V136.90" stroke="#333" stroke-width="1.2"/>
<text x="544.00" y="146.60" font-size="7.20" font-weight="bold" text-anchor="middle" letter-spacing="0.70" fill="#111">0</text>
<path d="M568.52 134.10 V136.90" stroke="#333" stroke-width="1.2"/>
<text x="568.92" y="146.60" font-size="7.20" font-weight="bold" text-anchor="middle" letter-spacing="0.70" fill="#111">0.1</text>
<path d="M593.44 134.10 V136.90" stroke="#333" stroke-width="1.2"/>
<text x="593.84" y="146.60" font-size="7.20" font-weight="bold" text-anchor="middle" letter-spacing="0.70" fill="#111">1</text>
<path d="M618.36 134.10 V136.90" stroke="#333" stroke-width="1.2"/>
<text x="618.76" y="146.60" font-size="7.20" font-weight="bold" text-anchor="middle" letter-spacing="0.70" fill="#111">10</text>
<path d="M643.28 134.10 V136.90" stroke="#333" stroke-width="1.2"/>
<text x="643.68" y="146.60" font-size="7.20" font-weight="bold" text-anchor="middle" letter-spacing="0.70" fill="#111">100</text>
<path d="M668.20 134.10 V136.90" stroke="#333" stroke-width="1.2"/>
<text x="668.60" y="146.60" font-size="7.20" font-weight="bold" text-anchor="middle" letter-spacing="0.70" fill="#111">1000</text>
<text x="578.00" y="158.30" font-size="7.6" letter-spacing="0.78" fill="#111"><tspan font-weight="bold">[BEZ235], </tspan><tspan letter-spacing="0.5">nM</tspan></text>
<text transform="translate(515.00 87.35) rotate(-90)" font-size="7.7" font-weight="bold" text-anchor="middle" textLength="131.6" lengthAdjust="spacing" fill="#111">Inhibition of cell proliferation</text>
<text transform="translate(525.80 85.20) rotate(-90)" font-size="7.7" font-weight="bold" text-anchor="middle" textLength="38.3" lengthAdjust="spacing" fill="#111">(% vs C)</text>
<path d="M543.60 134.27 L544.38 134.27 L545.17 134.27 L545.95 134.27 L546.73 134.27 L547.52 134.27 L548.30 134.27 L549.09 134.27 L549.87 134.27 L550.65 134.27 L551.44 134.27 L552.22 134.27 L553.00 134.27 L553.79 134.27 L554.57 134.26 L555.35 134.26 L556.14 134.26 L556.92 134.26 L557.71 134.26 L558.49 134.26 L559.27 134.25 L560.06 134.25 L560.84 134.25 L561.62 134.25 L562.41 134.24 L563.19 134.24 L563.97 134.23 L564.76 134.23 L565.54 134.23 L566.33 134.22 L567.11 134.21 L567.89 134.21 L568.68 134.20 L569.46 134.19 L570.24 134.18 L571.03 134.17 L571.81 134.16 L572.59 134.15 L573.38 134.14 L574.16 134.12 L574.95 134.11 L575.73 134.09 L576.51 134.07 L577.30 134.05 L578.08 134.02 L578.86 134.00 L579.65 133.97 L580.43 133.94 L581.22 133.90 L582.00 133.86 L582.78 133.82 L583.57 133.78 L584.35 133.72 L585.13 133.67 L585.92 133.61 L586.70 133.54 L587.48 133.46 L588.27 133.38 L589.05 133.29 L589.84 133.19 L590.62 133.08 L591.40 132.96 L592.19 132.83 L592.97 132.68 L593.75 132.52 L594.54 132.35 L595.32 132.16 L596.10 131.95 L596.89 131.72 L597.67 131.47 L598.46 131.19 L599.24 130.90 L600.02 130.57 L600.81 130.22 L601.59 129.84 L602.37 129.42 L603.16 128.97 L603.94 128.49 L604.72 127.97 L605.51 127.40 L606.29 126.79 L607.08 126.14 L607.86 125.45 L608.64 124.71 L609.43 123.92 L610.21 123.08 L610.99 122.20 L611.78 121.27 L612.56 120.29 L613.34 119.27 L614.13 118.21 L614.91 117.11 L615.70 115.97 L616.48 114.79 L617.26 113.59 L618.05 112.37 L618.83 111.13 L619.61 109.88 L620.40 108.62 L621.18 107.36 L621.96 106.11 L622.75 104.87 L623.53 103.65 L624.32 102.45 L625.10 101.28 L625.88 100.15 L626.67 99.04 L627.45 97.98 L628.23 96.96 L629.02 95.99 L629.80 95.06 L630.58 94.18 L631.37 93.35 L632.15 92.56 L632.94 91.82 L633.72 91.13 L634.50 90.48 L635.29 89.88 L636.07 89.32 L636.85 88.80 L637.64 88.31 L638.42 87.86 L639.21 87.45 L639.99 87.07 L640.77 86.72 L641.56 86.40 L642.34 86.10 L643.12 85.83 L643.91 85.58 L644.69 85.35 L645.47 85.15 L646.26 84.96 L647.04 84.78 L647.83 84.62 L648.61 84.48 L649.39 84.35 L650.18 84.23 L650.96 84.12 L651.74 84.02 L652.53 83.93 L653.31 83.85 L654.09 83.77 L654.88 83.70 L655.66 83.64 L656.45 83.58 L657.23 83.53 L658.01 83.49 L658.80 83.45 L659.58 83.41 L660.36 83.37 L661.15 83.34 L661.93 83.31 L662.71 83.29 L663.50 83.26 L664.28 83.24 L665.07 83.22 L665.85 83.20 L666.63 83.19 L667.42 83.17 L668.20 83.16" fill="none" stroke="#595959" stroke-width="1.20"/>
<circle cx="543.60" cy="134.10" r="1.70" fill="#595959"/>
<circle cx="568.52" cy="134.10" r="1.70" fill="#595959"/>
<path d="M593.44 130.38 V134.10 M591.99 130.38 H594.89 M591.99 134.10 H594.89" stroke="#595959" stroke-width="1.25" fill="none"/>
<circle cx="593.44" cy="132.24" r="1.70" fill="#595959"/>
<circle cx="610.86" cy="120.15" r="1.70" fill="#595959"/>
<path d="M618.36 110.85 V120.15 M616.91 110.85 H619.81 M616.91 120.15 H619.81" stroke="#595959" stroke-width="1.25" fill="none"/>
<circle cx="618.36" cy="115.50" r="1.70" fill="#595959"/>
<circle cx="635.78" cy="88.53" r="1.70" fill="#595959"/>
<circle cx="643.28" cy="86.67" r="1.70" fill="#595959"/>
<path d="M668.20 82.02 V85.74 M666.75 82.02 H669.65 M666.75 85.74 H669.65" stroke="#595959" stroke-width="1.25" fill="none"/>
<circle cx="668.20" cy="83.88" r="1.70" fill="#595959"/>
<path d="M543.60 122.72 L544.38 122.72 L545.17 122.72 L545.95 122.72 L546.73 122.72 L547.52 122.72 L548.30 122.72 L549.09 122.71 L549.87 122.71 L550.65 122.71 L551.44 122.71 L552.22 122.71 L553.00 122.71 L553.79 122.70 L554.57 122.70 L555.35 122.70 L556.14 122.69 L556.92 122.69 L557.71 122.69 L558.49 122.68 L559.27 122.68 L560.06 122.67 L560.84 122.67 L561.62 122.66 L562.41 122.66 L563.19 122.65 L563.97 122.64 L564.76 122.64 L565.54 122.63 L566.33 122.62 L567.11 122.61 L567.89 122.60 L568.68 122.58 L569.46 122.57 L570.24 122.56 L571.03 122.54 L571.81 122.52 L572.59 122.50 L573.38 122.48 L574.16 122.46 L574.95 122.44 L575.73 122.41 L576.51 122.38 L577.30 122.35 L578.08 122.32 L578.86 122.28 L579.65 122.24 L580.43 122.20 L581.22 122.15 L582.00 122.10 L582.78 122.04 L583.57 121.98 L584.35 121.91 L585.13 121.84 L585.92 121.76 L586.70 121.68 L587.48 121.58 L588.27 121.48 L589.05 121.37 L589.84 121.25 L590.62 121.12 L591.40 120.98 L592.19 120.83 L592.97 120.67 L593.75 120.49 L594.54 120.30 L595.32 120.10 L596.10 119.87 L596.89 119.63 L597.67 119.37 L598.46 119.09 L599.24 118.79 L600.02 118.47 L600.81 118.13 L601.59 117.75 L602.37 117.36 L603.16 116.94 L603.94 116.48 L604.72 116.00 L605.51 115.49 L606.29 114.95 L607.08 114.38 L607.86 113.77 L608.64 113.13 L609.43 112.46 L610.21 111.75 L610.99 111.02 L611.78 110.25 L612.56 109.45 L613.34 108.62 L614.13 107.76 L614.91 106.88 L615.70 105.97 L616.48 105.05 L617.26 104.10 L618.05 103.14 L618.83 102.17 L619.61 101.19 L620.40 100.20 L621.18 99.21 L621.96 98.23 L622.75 97.25 L623.53 96.28 L624.32 95.32 L625.10 94.38 L625.88 93.46 L626.67 92.56 L627.45 91.69 L628.23 90.84 L629.02 90.02 L629.80 89.23 L630.58 88.48 L631.37 87.75 L632.15 87.06 L632.94 86.40 L633.72 85.77 L634.50 85.17 L635.29 84.61 L636.07 84.08 L636.85 83.58 L637.64 83.11 L638.42 82.66 L639.21 82.25 L639.99 81.86 L640.77 81.50 L641.56 81.16 L642.34 80.85 L643.12 80.55 L643.91 80.28 L644.69 80.03 L645.47 79.79 L646.26 79.58 L647.04 79.37 L647.83 79.19 L648.61 79.02 L649.39 78.86 L650.18 78.71 L650.96 78.57 L651.74 78.45 L652.53 78.33 L653.31 78.23 L654.09 78.13 L654.88 78.04 L655.66 77.95 L656.45 77.88 L657.23 77.81 L658.01 77.74 L658.80 77.68 L659.58 77.63 L660.36 77.58 L661.15 77.53 L661.93 77.49 L662.71 77.45 L663.50 77.41 L664.28 77.38 L665.07 77.35 L665.85 77.32 L666.63 77.30 L667.42 77.27 L668.20 77.25" fill="none" stroke="#111111" stroke-width="1.10" stroke-dasharray="2.8 1.7"/>
<path d="M543.60 109.68 L541.60 113.28 L545.60 113.28 Z" fill="#111111"/>
<path d="M568.52 110.85 V134.10 M567.07 110.85 H569.97 M567.07 134.10 H569.97" stroke="#111111" stroke-width="1.45" fill="none"/>
<path d="M568.52 120.84 L566.52 124.44 L570.52 124.44 Z" fill="#111111"/>
<path d="M593.44 116.43 V125.73 M591.99 116.43 H594.89 M591.99 125.73 H594.89" stroke="#111111" stroke-width="1.45" fill="none"/>
<path d="M593.44 118.98 L591.44 122.58 L595.44 122.58 Z" fill="#111111"/>
<path d="M610.86 108.06 V115.50 M609.41 108.06 H612.31 M609.41 115.50 H612.31" stroke="#111111" stroke-width="1.45" fill="none"/>
<path d="M610.86 109.68 L608.86 113.28 L612.86 113.28 Z" fill="#111111"/>
<path d="M618.36 92.25 V110.85 M616.91 92.25 H619.81 M616.91 110.85 H619.81" stroke="#111111" stroke-width="1.45" fill="none"/>
<path d="M618.36 99.45 L616.36 103.05 L620.36 103.05 Z" fill="#111111"/>
<path d="M635.78 80.16 V89.46 M634.33 80.16 H637.23 M634.33 89.46 H637.23" stroke="#111111" stroke-width="1.45" fill="none"/>
<path d="M635.78 82.71 L633.78 86.31 L637.78 86.31 Z" fill="#111111"/>
<path d="M643.28 77.37 V84.81 M641.83 77.37 H644.73 M641.83 84.81 H644.73" stroke="#111111" stroke-width="1.45" fill="none"/>
<path d="M643.28 78.99 L641.28 82.59 L645.28 82.59 Z" fill="#111111"/>
<path d="M668.20 76.44 V83.88 M666.75 76.44 H669.65 M666.75 83.88 H669.65" stroke="#111111" stroke-width="1.45" fill="none"/>
<path d="M668.20 78.06 L666.20 81.66 L670.20 81.66 Z" fill="#111111"/>
<path d="M543.60 111.78 L544.38 106.24 L545.17 101.33 L545.95 97.19 L546.73 93.82 L547.52 91.15 L548.30 89.10 L549.09 87.56 L549.87 86.40 L550.65 85.55 L551.44 84.93 L552.22 84.48 L553.00 84.16 L553.79 83.92 L554.57 83.75 L555.35 83.63 L556.14 83.54 L556.92 83.48 L557.71 83.43 L558.49 83.40 L559.27 83.38 L560.06 83.36 L560.84 83.35 L561.62 83.34 L562.41 83.33 L563.19 83.33 L563.97 83.33 L564.76 83.33 L565.54 83.32 L566.33 83.32 L567.11 83.32 L567.89 83.32 L568.68 83.32 L569.46 83.32 L570.24 83.32 L571.03 83.32 L571.81 83.32 L572.59 83.32 L573.38 83.32 L574.16 83.32 L574.95 83.32 L575.73 83.32 L576.51 83.32 L577.30 83.32 L578.08 83.32 L578.86 83.32 L579.65 83.32 L580.43 83.32 L581.22 83.32 L582.00 83.32 L582.78 83.32 L583.57 83.32 L584.35 83.32 L585.13 83.32 L585.92 83.32 L586.70 83.32 L587.48 83.32 L588.27 83.32 L589.05 83.32 L589.84 83.32 L590.62 83.32 L591.40 83.32 L592.19 83.32 L592.97 83.32 L593.75 83.32 L594.54 83.32 L595.32 83.32 L596.10 83.32 L596.89 83.32 L597.67 83.32 L598.46 83.32 L599.24 83.32 L600.02 83.32 L600.81 83.32 L601.59 83.32 L602.37 83.32 L603.16 83.32 L603.94 83.32 L604.72 83.32 L605.51 83.32 L606.29 83.32 L607.08 83.32 L607.86 83.32 L608.64 83.32 L609.43 83.32 L610.21 83.32 L610.99 83.32 L611.78 83.32 L612.56 83.32 L613.34 83.32 L614.13 83.32 L614.91 83.32 L615.70 83.32 L616.48 83.32 L617.26 83.32 L618.05 83.32 L618.83 83.32 L619.61 83.32 L620.40 83.32 L621.18 83.32 L621.96 83.32 L622.75 83.32 L623.53 83.32 L624.32 83.32 L625.10 83.32 L625.88 83.32 L626.67 83.32 L627.45 83.32 L628.23 83.32 L629.02 83.32 L629.80 83.32 L630.58 83.32 L631.37 83.32 L632.15 83.32 L632.94 83.32 L633.72 83.32 L634.50 83.32 L635.29 83.32 L636.07 83.32 L636.85 83.32 L637.64 83.32 L638.42 83.32 L639.21 83.32 L639.99 83.32 L640.77 83.32 L641.56 83.32 L642.34 83.32 L643.12 83.32 L643.91 83.32 L644.69 83.32 L645.47 83.32 L646.26 83.32 L647.04 83.32 L647.83 83.32 L648.61 83.32 L649.39 83.32 L650.18 83.32 L650.96 83.32 L651.74 83.32 L652.53 83.32 L653.31 83.32 L654.09 83.32 L654.88 83.32 L655.66 83.32 L656.45 83.32 L657.23 83.32 L658.01 83.32 L658.80 83.32 L659.58 83.32 L660.36 83.32 L661.15 83.32 L661.93 83.32 L662.71 83.32 L663.50 83.32 L664.28 83.32 L665.07 83.32 L665.85 83.32 L666.63 83.32 L667.42 83.32 L668.20 83.32" fill="none" stroke="#111111" stroke-width="1.40"/>
<path d="M543.60 119.22 V124.80 M542.15 119.22 H545.05 M542.15 124.80 H545.05" stroke="#111111" stroke-width="1.45" fill="none"/>
<rect x="541.90" y="120.31" width="3.40" height="3.40" fill="#111111"/>
<rect x="566.82" y="76.60" width="3.40" height="3.40" fill="#111111"/>
<rect x="591.74" y="83.11" width="3.40" height="3.40" fill="#111111"/>
<rect x="609.16" y="101.71" width="3.40" height="3.40" fill="#111111"/>
<path d="M618.36 91.32 V96.90 M616.91 91.32 H619.81 M616.91 96.90 H619.81" stroke="#111111" stroke-width="1.45" fill="none"/>
<rect x="616.66" y="92.41" width="3.40" height="3.40" fill="#111111"/>
<rect x="634.08" y="75.67" width="3.40" height="3.40" fill="#111111"/>
<rect x="641.58" y="72.88" width="3.40" height="3.40" fill="#111111"/>
<rect x="666.50" y="71.02" width="3.40" height="3.40" fill="#111111"/>
<circle cx="686.20" cy="43.90" r="1.95" fill="#595959"/>
<text x="695.30" y="47.30" font-size="7.7" textLength="32.70" lengthAdjust="spacing" fill="#1a1a1a" style="stroke-width:0.18px">BEZ235</text>
<rect x="684.25" y="53.45" width="3.91" height="3.91" fill="#111111"/>
<text x="695.30" y="59.00" font-size="7.7" textLength="57.90" lengthAdjust="spacing" fill="#1a1a1a" style="stroke-width:0.18px">Palb+ BEZ235</text>
<path d="M686.20 65.98 L683.90 70.12 L688.50 70.12 Z" fill="#111111"/>
<text x="695.30" y="71.80" font-size="7.7" textLength="42.70" lengthAdjust="spacing" fill="#1a1a1a" style="stroke-width:0.18px">Bliss curve</text>
<path d="M40.05 203.90 V297.30" stroke="#333" stroke-width="1.6" fill="none"/>
<path d="M37.25 296.50 H40.05" stroke="#333" stroke-width="1.2"/>
<text x="36.65" y="299.10" font-size="7.20" font-weight="bold" text-anchor="end" letter-spacing="0.75" fill="#111">0</text>
<path d="M37.25 278.12 H40.05" stroke="#333" stroke-width="1.2"/>
<text x="36.65" y="280.72" font-size="7.20" font-weight="bold" text-anchor="end" letter-spacing="0.75" fill="#111">20</text>
<path d="M37.25 259.74 H40.05" stroke="#333" stroke-width="1.2"/>
<text x="36.65" y="262.34" font-size="7.20" font-weight="bold" text-anchor="end" letter-spacing="0.75" fill="#111">40</text>
<path d="M37.25 241.36 H40.05" stroke="#333" stroke-width="1.2"/>
<text x="36.65" y="243.96" font-size="7.20" font-weight="bold" text-anchor="end" letter-spacing="0.75" fill="#111">60</text>
<path d="M37.25 222.98 H40.05" stroke="#333" stroke-width="1.2"/>
<text x="36.65" y="225.58" font-size="7.20" font-weight="bold" text-anchor="end" letter-spacing="0.75" fill="#111">80</text>
<path d="M37.25 204.60 H40.05" stroke="#333" stroke-width="1.2"/>
<text x="36.65" y="207.20" font-size="7.20" font-weight="bold" text-anchor="end" letter-spacing="0.75" fill="#111">100</text>
<path d="M39.25 296.50 H164.75" stroke="#333" stroke-width="1.6"/>
<path d="M40.05 296.50 V299.30" stroke="#333" stroke-width="1.2"/>
<text x="40.45" y="309.00" font-size="7.20" font-weight="bold" text-anchor="middle" letter-spacing="0.70" fill="#111">0</text>
<path d="M71.05 296.50 V299.30" stroke="#333" stroke-width="1.2"/>
<text x="71.45" y="309.00" font-size="7.20" font-weight="bold" text-anchor="middle" letter-spacing="0.70" fill="#111">0.01</text>
<path d="M102.05 296.50 V299.30" stroke="#333" stroke-width="1.2"/>
<text x="102.45" y="309.00" font-size="7.20" font-weight="bold" text-anchor="middle" letter-spacing="0.70" fill="#111">0.1</text>
<path d="M133.05 296.50 V299.30" stroke="#333" stroke-width="1.2"/>
<text x="133.45" y="309.00" font-size="7.20" font-weight="bold" text-anchor="middle" letter-spacing="0.70" fill="#111">1</text>
<path d="M164.05 296.50 V299.30" stroke="#333" stroke-width="1.2"/>
<text x="164.45" y="309.00" font-size="7.20" font-weight="bold" text-anchor="middle" letter-spacing="0.70" fill="#111">10</text>
<text x="74.00" y="322.30" font-size="7.6" letter-spacing="0.78" fill="#111"><tspan font-weight="bold">[BYL719], </tspan><tspan letter-spacing="0.5">µM</tspan></text>
<text transform="translate(6.90 250.60) rotate(-90)" font-size="7.7" font-weight="bold" text-anchor="middle" textLength="131.6" lengthAdjust="spacing" fill="#111">Inhibition of cell proliferation</text>
<text transform="translate(18.40 248.10) rotate(-90)" font-size="7.7" font-weight="bold" text-anchor="middle" textLength="38.3" lengthAdjust="spacing" fill="#111">(% vs C)</text>
<path d="M40.05 294.72 L40.83 294.72 L41.61 294.72 L42.39 294.72 L43.17 294.72 L43.95 294.72 L44.73 294.72 L45.51 294.72 L46.29 294.72 L47.07 294.72 L47.85 294.72 L48.63 294.72 L49.41 294.72 L50.19 294.72 L50.97 294.72 L51.75 294.72 L52.53 294.72 L53.31 294.72 L54.09 294.72 L54.87 294.72 L55.65 294.72 L56.43 294.72 L57.21 294.72 L57.99 294.72 L58.77 294.72 L59.55 294.72 L60.33 294.72 L61.11 294.72 L61.89 294.72 L62.67 294.72 L63.45 294.72 L64.23 294.71 L65.01 294.71 L65.79 294.71 L66.57 294.71 L67.35 294.71 L68.13 294.71 L68.91 294.71 L69.69 294.71 L70.47 294.71 L71.24 294.71 L72.02 294.71 L72.80 294.71 L73.58 294.70 L74.36 294.70 L75.14 294.70 L75.92 294.70 L76.70 294.70 L77.48 294.70 L78.26 294.69 L79.04 294.69 L79.82 294.69 L80.60 294.68 L81.38 294.68 L82.16 294.68 L82.94 294.67 L83.72 294.67 L84.50 294.66 L85.28 294.65 L86.06 294.65 L86.84 294.64 L87.62 294.63 L88.40 294.62 L89.18 294.61 L89.96 294.60 L90.74 294.59 L91.52 294.58 L92.30 294.56 L93.08 294.55 L93.86 294.53 L94.64 294.51 L95.42 294.49 L96.20 294.46 L96.98 294.44 L97.76 294.41 L98.54 294.38 L99.32 294.34 L100.10 294.30 L100.88 294.26 L101.66 294.21 L102.44 294.16 L103.22 294.10 L104.00 294.04 L104.78 293.97 L105.56 293.90 L106.34 293.81 L107.12 293.72 L107.90 293.62 L108.68 293.51 L109.46 293.39 L110.24 293.25 L111.02 293.11 L111.80 292.95 L112.58 292.77 L113.36 292.58 L114.14 292.37 L114.92 292.14 L115.70 291.88 L116.48 291.61 L117.26 291.31 L118.04 290.98 L118.82 290.62 L119.60 290.24 L120.38 289.82 L121.16 289.36 L121.94 288.87 L122.72 288.34 L123.50 287.77 L124.28 287.15 L125.06 286.49 L125.84 285.78 L126.62 285.03 L127.40 284.23 L128.18 283.38 L128.96 282.48 L129.74 281.53 L130.52 280.53 L131.30 279.48 L132.08 278.39 L132.86 277.26 L133.63 276.09 L134.41 274.88 L135.19 273.65 L135.97 272.39 L136.75 271.11 L137.53 269.81 L138.31 268.51 L139.09 267.20 L139.87 265.90 L140.65 264.61 L141.43 263.34 L142.21 262.08 L142.99 260.86 L143.77 259.67 L144.55 258.51 L145.33 257.40 L146.11 256.33 L146.89 255.30 L147.67 254.33 L148.45 253.40 L149.23 252.52 L150.01 251.68 L150.79 250.90 L151.57 250.17 L152.35 249.48 L153.13 248.84 L153.91 248.24 L154.69 247.69 L155.47 247.17 L156.25 246.70 L157.03 246.26 L157.81 245.85 L158.59 245.48 L159.37 245.13 L160.15 244.82 L160.93 244.53 L161.71 244.26 L162.49 244.02 L163.27 243.80 L164.05 243.59" fill="none" stroke="#595959" stroke-width="1.20"/>
<circle cx="40.05" cy="294.66" r="1.70" fill="#595959"/>
<path d="M71.05 287.31 V296.50 M69.60 287.31 H72.50 M69.60 296.50 H72.50" stroke="#595959" stroke-width="1.25" fill="none"/>
<circle cx="71.05" cy="294.66" r="1.70" fill="#595959"/>
<path d="M92.72 287.31 V296.50 M91.27 287.31 H94.17 M91.27 296.50 H94.17" stroke="#595959" stroke-width="1.25" fill="none"/>
<circle cx="92.72" cy="294.66" r="1.70" fill="#595959"/>
<path d="M102.05 283.63 V296.50 M100.60 283.63 H103.50 M100.60 296.50 H103.50" stroke="#595959" stroke-width="1.25" fill="none"/>
<circle cx="102.05" cy="292.82" r="1.70" fill="#595959"/>
<path d="M123.72 284.55 V290.07 M122.27 284.55 H125.17 M122.27 290.07 H125.17" stroke="#595959" stroke-width="1.25" fill="none"/>
<circle cx="123.72" cy="287.31" r="1.70" fill="#595959"/>
<circle cx="133.05" cy="277.20" r="1.70" fill="#595959"/>
<path d="M142.38 253.31 V269.85 M140.93 253.31 H143.83 M140.93 269.85 H143.83" stroke="#595959" stroke-width="1.25" fill="none"/>
<circle cx="142.38" cy="261.58" r="1.70" fill="#595959"/>
<path d="M164.05 241.36 V246.87 M162.60 241.36 H165.50 M162.60 246.87 H165.50" stroke="#595959" stroke-width="1.25" fill="none"/>
<circle cx="164.05" cy="244.12" r="1.70" fill="#595959"/>
<path d="M40.05 263.55 L40.83 263.55 L41.61 263.55 L42.39 263.55 L43.17 263.55 L43.95 263.55 L44.73 263.55 L45.51 263.55 L46.29 263.55 L47.07 263.55 L47.85 263.55 L48.63 263.55 L49.41 263.55 L50.19 263.55 L50.97 263.55 L51.75 263.55 L52.53 263.55 L53.31 263.55 L54.09 263.55 L54.87 263.55 L55.65 263.55 L56.43 263.55 L57.21 263.55 L57.99 263.55 L58.77 263.55 L59.55 263.55 L60.33 263.55 L61.11 263.55 L61.89 263.55 L62.67 263.55 L63.45 263.55 L64.23 263.55 L65.01 263.55 L65.79 263.55 L66.57 263.54 L67.35 263.54 L68.13 263.54 L68.91 263.54 L69.69 263.54 L70.47 263.54 L71.24 263.54 L72.02 263.54 L72.80 263.54 L73.58 263.53 L74.36 263.53 L75.14 263.53 L75.92 263.53 L76.70 263.52 L77.48 263.52 L78.26 263.52 L79.04 263.52 L79.82 263.51 L80.60 263.51 L81.38 263.51 L82.16 263.50 L82.94 263.50 L83.72 263.49 L84.50 263.48 L85.28 263.48 L86.06 263.47 L86.84 263.46 L87.62 263.46 L88.40 263.45 L89.18 263.44 L89.96 263.43 L90.74 263.41 L91.52 263.40 L92.30 263.39 L93.08 263.37 L93.86 263.35 L94.64 263.34 L95.42 263.32 L96.20 263.29 L96.98 263.27 L97.76 263.24 L98.54 263.22 L99.32 263.18 L100.10 263.15 L100.88 263.11 L101.66 263.07 L102.44 263.03 L103.22 262.98 L104.00 262.93 L104.78 262.87 L105.56 262.81 L106.34 262.74 L107.12 262.67 L107.90 262.59 L108.68 262.50 L109.46 262.41 L110.24 262.31 L111.02 262.20 L111.80 262.08 L112.58 261.95 L113.36 261.80 L114.14 261.65 L114.92 261.48 L115.70 261.30 L116.48 261.11 L117.26 260.90 L118.04 260.67 L118.82 260.43 L119.60 260.17 L120.38 259.88 L121.16 259.58 L121.94 259.26 L122.72 258.91 L123.50 258.54 L124.28 258.14 L125.06 257.72 L125.84 257.28 L126.62 256.81 L127.40 256.31 L128.18 255.78 L128.96 255.23 L129.74 254.65 L130.52 254.04 L131.30 253.41 L132.08 252.76 L132.86 252.08 L133.63 251.37 L134.41 250.65 L135.19 249.91 L135.97 249.16 L136.75 248.39 L137.53 247.61 L138.31 246.83 L139.09 246.04 L139.87 245.25 L140.65 244.46 L141.43 243.68 L142.21 242.90 L142.99 242.14 L143.77 241.39 L144.55 240.65 L145.33 239.94 L146.11 239.24 L146.89 238.57 L147.67 237.92 L148.45 237.29 L149.23 236.69 L150.01 236.12 L150.79 235.58 L151.57 235.06 L152.35 234.56 L153.13 234.10 L153.91 233.66 L154.69 233.25 L155.47 232.86 L156.25 232.49 L157.03 232.15 L157.81 231.83 L158.59 231.54 L159.37 231.26 L160.15 231.00 L160.93 230.76 L161.71 230.54 L162.49 230.33 L163.27 230.14 L164.05 229.97" fill="none" stroke="#111111" stroke-width="1.10" stroke-dasharray="2.8 1.7"/>
<path d="M40.05 256.98 V271.69 M38.60 256.98 H41.50 M38.60 271.69 H41.50" stroke="#111111" stroke-width="1.45" fill="none"/>
<path d="M40.05 262.23 L38.05 265.83 L42.05 265.83 Z" fill="#111111"/>
<path d="M71.05 255.15 V271.69 M69.60 255.15 H72.50 M69.60 271.69 H72.50" stroke="#111111" stroke-width="1.45" fill="none"/>
<path d="M71.05 261.32 L69.05 264.92 L73.05 264.92 Z" fill="#111111"/>
<path d="M92.72 257.90 V268.93 M91.27 257.90 H94.17 M91.27 268.93 H94.17" stroke="#111111" stroke-width="1.45" fill="none"/>
<path d="M92.72 261.32 L90.72 264.92 L94.72 264.92 Z" fill="#111111"/>
<path d="M102.05 258.82 V268.01 M100.60 258.82 H103.50 M100.60 268.01 H103.50" stroke="#111111" stroke-width="1.45" fill="none"/>
<path d="M102.05 261.32 L100.05 264.92 L104.05 264.92 Z" fill="#111111"/>
<path d="M123.72 257.90 V261.58 M122.27 257.90 H125.17 M122.27 261.58 H125.17" stroke="#111111" stroke-width="1.45" fill="none"/>
<path d="M123.72 257.64 L121.72 261.24 L125.72 261.24 Z" fill="#111111"/>
<path d="M133.05 250.55 V254.23 M131.60 250.55 H134.50 M131.60 254.23 H134.50" stroke="#111111" stroke-width="1.45" fill="none"/>
<path d="M133.05 250.29 L131.05 253.89 L135.05 253.89 Z" fill="#111111"/>
<path d="M142.38 233.09 V251.47 M140.93 233.09 H143.83 M140.93 251.47 H143.83" stroke="#111111" stroke-width="1.45" fill="none"/>
<path d="M142.38 240.18 L140.38 243.78 L144.38 243.78 Z" fill="#111111"/>
<path d="M164.05 222.06 V238.60 M162.60 222.06 H165.50 M162.60 238.60 H165.50" stroke="#111111" stroke-width="1.45" fill="none"/>
<path d="M164.05 228.23 L162.05 231.83 L166.05 231.83 Z" fill="#111111"/>
<path d="M40.05 262.94 L40.83 262.54 L41.61 262.14 L42.39 261.74 L43.17 261.34 L43.95 260.95 L44.73 260.56 L45.51 260.17 L46.29 259.79 L47.07 259.41 L47.85 259.03 L48.63 258.65 L49.41 258.28 L50.19 257.91 L50.97 257.54 L51.75 257.18 L52.53 256.81 L53.31 256.45 L54.09 256.10 L54.87 255.75 L55.65 255.40 L56.43 255.05 L57.21 254.71 L57.99 254.37 L58.77 254.03 L59.55 253.70 L60.33 253.37 L61.11 253.04 L61.89 252.71 L62.67 252.39 L63.45 252.08 L64.23 251.76 L65.01 251.45 L65.79 251.14 L66.57 250.84 L67.35 250.54 L68.13 250.24 L68.91 249.95 L69.69 249.65 L70.47 249.37 L71.24 249.08 L72.02 248.80 L72.80 248.52 L73.58 248.25 L74.36 247.98 L75.14 247.71 L75.92 247.44 L76.70 247.18 L77.48 246.92 L78.26 246.67 L79.04 246.41 L79.82 246.17 L80.60 245.92 L81.38 245.68 L82.16 245.44 L82.94 245.20 L83.72 244.97 L84.50 244.74 L85.28 244.51 L86.06 244.29 L86.84 244.07 L87.62 243.85 L88.40 243.63 L89.18 243.42 L89.96 243.21 L90.74 243.01 L91.52 242.80 L92.30 242.60 L93.08 242.40 L93.86 242.21 L94.64 242.02 L95.42 241.83 L96.20 241.64 L96.98 241.46 L97.76 241.28 L98.54 241.10 L99.32 240.92 L100.10 240.75 L100.88 240.58 L101.66 240.41 L102.44 240.25 L103.22 240.09 L104.00 239.93 L104.78 239.77 L105.56 239.61 L106.34 239.46 L107.12 239.31 L107.90 239.16 L108.68 239.01 L109.46 238.87 L110.24 238.73 L111.02 238.59 L111.80 238.45 L112.58 238.32 L113.36 238.19 L114.14 238.06 L114.92 237.93 L115.70 237.80 L116.48 237.68 L117.26 237.56 L118.04 237.44 L118.82 237.32 L119.60 237.20 L120.38 237.09 L121.16 236.97 L121.94 236.86 L122.72 236.75 L123.50 236.65 L124.28 236.54 L125.06 236.44 L125.84 236.34 L126.62 236.24 L127.40 236.14 L128.18 236.04 L128.96 235.95 L129.74 235.85 L130.52 235.76 L131.30 235.67 L132.08 235.58 L132.86 235.50 L133.63 235.41 L134.41 235.33 L135.19 235.24 L135.97 235.16 L136.75 235.08 L137.53 235.00 L138.31 234.93 L139.09 234.85 L139.87 234.78 L140.65 234.70 L141.43 234.63 L142.21 234.56 L142.99 234.49 L143.77 234.42 L144.55 234.36 L145.33 234.29 L146.11 234.23 L146.89 234.16 L147.67 234.10 L148.45 234.04 L149.23 233.98 L150.01 233.92 L150.79 233.86 L151.57 233.81 L152.35 233.75 L153.13 233.69 L153.91 233.64 L154.69 233.59 L155.47 233.54 L156.25 233.48 L157.03 233.43 L157.81 233.39 L158.59 233.34 L159.37 233.29 L160.15 233.24 L160.93 233.20 L161.71 233.15 L162.49 233.11 L163.27 233.06 L164.05 233.02" fill="none" stroke="#111111" stroke-width="1.40"/>
<path d="M40.05 256.98 V271.69 M38.60 256.98 H41.50 M38.60 271.69 H41.50" stroke="#111111" stroke-width="1.45" fill="none"/>
<rect x="38.35" y="262.63" width="3.40" height="3.40" fill="#111111"/>
<path d="M71.05 241.36 V250.55 M69.60 241.36 H72.50 M69.60 250.55 H72.50" stroke="#111111" stroke-width="1.45" fill="none"/>
<rect x="69.35" y="244.25" width="3.40" height="3.40" fill="#111111"/>
<path d="M92.72 240.44 V245.95 M91.27 240.44 H94.17 M91.27 245.95 H94.17" stroke="#111111" stroke-width="1.45" fill="none"/>
<rect x="91.02" y="241.50" width="3.40" height="3.40" fill="#111111"/>
<path d="M102.05 238.60 V242.28 M100.60 238.60 H103.50 M100.60 242.28 H103.50" stroke="#111111" stroke-width="1.45" fill="none"/>
<rect x="100.35" y="238.74" width="3.40" height="3.40" fill="#111111"/>
<path d="M123.72 235.85 V237.68 M122.27 235.85 H125.17 M122.27 237.68 H125.17" stroke="#111111" stroke-width="1.45" fill="none"/>
<rect x="122.02" y="235.06" width="3.40" height="3.40" fill="#111111"/>
<path d="M133.05 236.76 V238.60 M131.60 236.76 H134.50 M131.60 238.60 H134.50" stroke="#111111" stroke-width="1.45" fill="none"/>
<rect x="131.35" y="235.98" width="3.40" height="3.40" fill="#111111"/>
<path d="M164.05 219.30 V226.66 M162.60 219.30 H165.50 M162.60 226.66 H165.50" stroke="#111111" stroke-width="1.45" fill="none"/>
<rect x="162.35" y="221.28" width="3.40" height="3.40" fill="#111111"/>
<circle cx="181.10" cy="209.50" r="1.95" fill="#595959"/>
<text x="190.40" y="212.50" font-size="7.7" textLength="32.00" lengthAdjust="spacing" fill="#1a1a1a" style="stroke-width:0.18px">BYL719</text>
<rect x="179.14" y="219.24" width="3.91" height="3.91" fill="#111111"/>
<text x="190.40" y="224.50" font-size="7.7" textLength="55.10" lengthAdjust="spacing" fill="#1a1a1a" style="stroke-width:0.18px">Palb+BYL719</text>
<path d="M181.10 229.89 L178.80 234.03 L183.40 234.03 Z" fill="#111111"/>
<text x="190.40" y="235.70" font-size="7.7" textLength="43.10" lengthAdjust="spacing" fill="#1a1a1a" style="stroke-width:0.18px">Bliss curve</text>
<path d="M289.45 204.30 V298.50" stroke="#333" stroke-width="1.6" fill="none"/>
<path d="M286.65 297.70 H289.45" stroke="#333" stroke-width="1.2"/>
<text x="286.05" y="300.30" font-size="7.20" font-weight="bold" text-anchor="end" letter-spacing="0.75" fill="#111">0</text>
<path d="M286.65 279.16 H289.45" stroke="#333" stroke-width="1.2"/>
<text x="286.05" y="281.76" font-size="7.20" font-weight="bold" text-anchor="end" letter-spacing="0.75" fill="#111">20</text>
<path d="M286.65 260.62 H289.45" stroke="#333" stroke-width="1.2"/>
<text x="286.05" y="263.22" font-size="7.20" font-weight="bold" text-anchor="end" letter-spacing="0.75" fill="#111">40</text>
<path d="M286.65 242.08 H289.45" stroke="#333" stroke-width="1.2"/>
<text x="286.05" y="244.68" font-size="7.20" font-weight="bold" text-anchor="end" letter-spacing="0.75" fill="#111">60</text>
<path d="M286.65 223.54 H289.45" stroke="#333" stroke-width="1.2"/>
<text x="286.05" y="226.14" font-size="7.20" font-weight="bold" text-anchor="end" letter-spacing="0.75" fill="#111">80</text>
<path d="M286.65 205.00 H289.45" stroke="#333" stroke-width="1.2"/>
<text x="286.05" y="207.60" font-size="7.20" font-weight="bold" text-anchor="end" letter-spacing="0.75" fill="#111">100</text>
<path d="M288.65 297.70 H418.15" stroke="#333" stroke-width="1.6"/>
<path d="M289.45 297.70 V300.50" stroke="#333" stroke-width="1.2"/>
<text x="289.85" y="310.20" font-size="7.20" font-weight="bold" text-anchor="middle" letter-spacing="0.70" fill="#111">0</text>
<path d="M321.45 297.70 V300.50" stroke="#333" stroke-width="1.2"/>
<text x="321.85" y="310.20" font-size="7.20" font-weight="bold" text-anchor="middle" letter-spacing="0.70" fill="#111">0.01</text>
<path d="M353.45 297.70 V300.50" stroke="#333" stroke-width="1.2"/>
<text x="353.85" y="310.20" font-size="7.20" font-weight="bold" text-anchor="middle" letter-spacing="0.70" fill="#111">0.1</text>
<path d="M385.45 297.70 V300.50" stroke="#333" stroke-width="1.2"/>
<text x="385.85" y="310.20" font-size="7.20" font-weight="bold" text-anchor="middle" letter-spacing="0.70" fill="#111">1</text>
<path d="M417.45 297.70 V300.50" stroke="#333" stroke-width="1.2"/>
<text x="417.85" y="310.20" font-size="7.20" font-weight="bold" text-anchor="middle" letter-spacing="0.70" fill="#111">10</text>
<text x="325.10" y="322.30" font-size="7.6" letter-spacing="0.78" fill="#111"><tspan font-weight="bold">[BYL719], </tspan><tspan letter-spacing="0.5">µM</tspan></text>
<text transform="translate(259.40 250.40) rotate(-90)" font-size="7.7" font-weight="bold" text-anchor="middle" textLength="131.6" lengthAdjust="spacing" fill="#111">Inhibition of cell proliferation</text>
<text transform="translate(270.80 249.00) rotate(-90)" font-size="7.7" font-weight="bold" text-anchor="middle" textLength="38.3" lengthAdjust="spacing" fill="#111">(% vs C)</text>
<path d="M289.45 286.56 L290.26 286.56 L291.06 286.56 L291.87 286.56 L292.67 286.56 L293.48 286.56 L294.28 286.56 L295.09 286.56 L295.89 286.56 L296.70 286.56 L297.50 286.56 L298.31 286.56 L299.11 286.56 L299.92 286.56 L300.72 286.56 L301.53 286.56 L302.33 286.56 L303.14 286.56 L303.94 286.56 L304.75 286.56 L305.55 286.56 L306.36 286.56 L307.16 286.56 L307.97 286.56 L308.77 286.56 L309.58 286.56 L310.38 286.56 L311.19 286.56 L311.99 286.56 L312.80 286.55 L313.60 286.55 L314.41 286.55 L315.21 286.55 L316.02 286.55 L316.82 286.55 L317.63 286.55 L318.43 286.55 L319.24 286.55 L320.04 286.55 L320.85 286.55 L321.65 286.55 L322.46 286.55 L323.26 286.55 L324.07 286.55 L324.87 286.55 L325.68 286.55 L326.48 286.55 L327.29 286.55 L328.09 286.54 L328.90 286.54 L329.70 286.54 L330.51 286.54 L331.31 286.54 L332.12 286.54 L332.92 286.54 L333.73 286.53 L334.53 286.53 L335.34 286.53 L336.14 286.53 L336.95 286.52 L337.75 286.52 L338.56 286.52 L339.36 286.52 L340.17 286.51 L340.97 286.51 L341.78 286.50 L342.58 286.50 L343.39 286.50 L344.19 286.49 L345.00 286.48 L345.80 286.48 L346.61 286.47 L347.41 286.47 L348.22 286.46 L349.02 286.45 L349.83 286.44 L350.63 286.43 L351.44 286.42 L352.24 286.41 L353.05 286.40 L353.85 286.38 L354.66 286.37 L355.46 286.35 L356.27 286.34 L357.07 286.32 L357.88 286.30 L358.68 286.28 L359.49 286.26 L360.29 286.23 L361.10 286.20 L361.90 286.18 L362.71 286.14 L363.51 286.11 L364.32 286.07 L365.12 286.03 L365.93 285.99 L366.73 285.95 L367.54 285.90 L368.34 285.84 L369.15 285.78 L369.95 285.72 L370.76 285.65 L371.56 285.58 L372.37 285.50 L373.17 285.42 L373.98 285.32 L374.78 285.22 L375.59 285.12 L376.39 285.00 L377.20 284.88 L378.00 284.74 L378.81 284.60 L379.61 284.44 L380.42 284.27 L381.22 284.09 L382.03 283.90 L382.83 283.69 L383.64 283.46 L384.44 283.22 L385.25 282.96 L386.05 282.68 L386.86 282.38 L387.66 282.06 L388.47 281.72 L389.27 281.35 L390.08 280.96 L390.88 280.54 L391.69 280.09 L392.49 279.61 L393.30 279.11 L394.10 278.57 L394.91 277.99 L395.71 277.38 L396.52 276.74 L397.32 276.06 L398.13 275.34 L398.93 274.58 L399.74 273.78 L400.54 272.95 L401.35 272.07 L402.15 271.15 L402.96 270.19 L403.76 269.19 L404.57 268.15 L405.37 267.08 L406.18 265.97 L406.98 264.82 L407.79 263.64 L408.59 262.43 L409.40 261.19 L410.20 259.93 L411.01 258.65 L411.81 257.35 L412.62 256.04 L413.42 254.72 L414.23 253.39 L415.03 252.06 L415.84 250.73 L416.64 249.41 L417.45 248.11" fill="none" stroke="#595959" stroke-width="1.20"/>
<circle cx="289.45" cy="297.70" r="1.70" fill="#595959"/>
<path d="M321.45 280.09 V285.65 M320.00 280.09 H322.90 M320.00 285.65 H322.90" stroke="#595959" stroke-width="1.25" fill="none"/>
<circle cx="321.45" cy="282.87" r="1.70" fill="#595959"/>
<path d="M343.82 283.80 V293.06 M342.37 283.80 H345.27 M342.37 293.06 H345.27" stroke="#595959" stroke-width="1.25" fill="none"/>
<circle cx="343.82" cy="288.43" r="1.70" fill="#595959"/>
<path d="M353.45 269.89 V281.01 M352.00 269.89 H354.90 M352.00 281.01 H354.90" stroke="#595959" stroke-width="1.25" fill="none"/>
<circle cx="353.45" cy="275.45" r="1.70" fill="#595959"/>
<path d="M375.82 269.89 V290.28 M374.37 269.89 H377.27 M374.37 290.28 H377.27" stroke="#595959" stroke-width="1.25" fill="none"/>
<circle cx="375.82" cy="280.09" r="1.70" fill="#595959"/>
<path d="M385.45 282.87 V290.28 M384.00 282.87 H386.90 M384.00 290.28 H386.90" stroke="#595959" stroke-width="1.25" fill="none"/>
<circle cx="385.45" cy="286.58" r="1.70" fill="#595959"/>
<path d="M395.08 274.52 V281.94 M393.63 274.52 H396.53 M393.63 281.94 H396.53" stroke="#595959" stroke-width="1.25" fill="none"/>
<circle cx="395.08" cy="278.23" r="1.70" fill="#595959"/>
<path d="M417.45 237.44 V255.99 M416.00 237.44 H418.90 M416.00 255.99 H418.90" stroke="#595959" stroke-width="1.25" fill="none"/>
<circle cx="417.45" cy="246.72" r="1.70" fill="#595959"/>
<path d="M289.45 264.74 L290.26 264.74 L291.06 264.74 L291.87 264.74 L292.67 264.74 L293.48 264.74 L294.28 264.74 L295.09 264.74 L295.89 264.74 L296.70 264.73 L297.50 264.73 L298.31 264.73 L299.11 264.73 L299.92 264.73 L300.72 264.73 L301.53 264.73 L302.33 264.73 L303.14 264.73 L303.94 264.73 L304.75 264.73 L305.55 264.73 L306.36 264.73 L307.16 264.73 L307.97 264.73 L308.77 264.73 L309.58 264.73 L310.38 264.73 L311.19 264.72 L311.99 264.72 L312.80 264.72 L313.60 264.72 L314.41 264.72 L315.21 264.72 L316.02 264.72 L316.82 264.72 L317.63 264.71 L318.43 264.71 L319.24 264.71 L320.04 264.71 L320.85 264.71 L321.65 264.71 L322.46 264.70 L323.26 264.70 L324.07 264.70 L324.87 264.70 L325.68 264.69 L326.48 264.69 L327.29 264.69 L328.09 264.69 L328.90 264.68 L329.70 264.68 L330.51 264.68 L331.31 264.67 L332.12 264.67 L332.92 264.66 L333.73 264.66 L334.53 264.65 L335.34 264.65 L336.14 264.64 L336.95 264.64 L337.75 264.63 L338.56 264.63 L339.36 264.62 L340.17 264.61 L340.97 264.61 L341.78 264.60 L342.58 264.59 L343.39 264.58 L344.19 264.57 L345.00 264.56 L345.80 264.55 L346.61 264.54 L347.41 264.53 L348.22 264.51 L349.02 264.50 L349.83 264.49 L350.63 264.47 L351.44 264.46 L352.24 264.44 L353.05 264.42 L353.85 264.40 L354.66 264.39 L355.46 264.36 L356.27 264.34 L357.07 264.32 L357.88 264.29 L358.68 264.27 L359.49 264.24 L360.29 264.21 L361.10 264.18 L361.90 264.15 L362.71 264.11 L363.51 264.08 L364.32 264.04 L365.12 264.00 L365.93 263.96 L366.73 263.91 L367.54 263.86 L368.34 263.81 L369.15 263.76 L369.95 263.70 L370.76 263.64 L371.56 263.57 L372.37 263.51 L373.17 263.43 L373.98 263.36 L374.78 263.28 L375.59 263.19 L376.39 263.10 L377.20 263.01 L378.00 262.91 L378.81 262.80 L379.61 262.69 L380.42 262.57 L381.22 262.45 L382.03 262.31 L382.83 262.17 L383.64 262.03 L384.44 261.87 L385.25 261.70 L386.05 261.53 L386.86 261.34 L387.66 261.15 L388.47 260.94 L389.27 260.72 L390.08 260.49 L390.88 260.25 L391.69 259.99 L392.49 259.72 L393.30 259.43 L394.10 259.13 L394.91 258.81 L395.71 258.47 L396.52 258.12 L397.32 257.74 L398.13 257.35 L398.93 256.93 L399.74 256.49 L400.54 256.02 L401.35 255.53 L402.15 255.02 L402.96 254.47 L403.76 253.90 L404.57 253.30 L405.37 252.66 L406.18 251.99 L406.98 251.29 L407.79 250.55 L408.59 249.77 L409.40 248.96 L410.20 248.10 L411.01 247.19 L411.81 246.25 L412.62 245.25 L413.42 244.21 L414.23 243.12 L415.03 241.97 L415.84 240.78 L416.64 239.52 L417.45 238.21" fill="none" stroke="#111111" stroke-width="1.10" stroke-dasharray="2.8 1.7"/>
<path d="M289.45 273.60 V284.72 M288.00 273.60 H290.90 M288.00 284.72 H290.90" stroke="#111111" stroke-width="1.45" fill="none"/>
<path d="M289.45 277.06 L287.45 280.66 L291.45 280.66 Z" fill="#111111"/>
<path d="M321.45 253.20 V271.74 M320.00 253.20 H322.90 M320.00 271.74 H322.90" stroke="#111111" stroke-width="1.45" fill="none"/>
<path d="M321.45 260.37 L319.45 263.97 L323.45 263.97 Z" fill="#111111"/>
<path d="M343.82 261.55 V270.82 M342.37 261.55 H345.27 M342.37 270.82 H345.27" stroke="#111111" stroke-width="1.45" fill="none"/>
<path d="M343.82 264.08 L341.82 267.68 L345.82 267.68 Z" fill="#111111"/>
<path d="M353.45 247.64 V266.18 M352.00 247.64 H354.90 M352.00 266.18 H354.90" stroke="#111111" stroke-width="1.45" fill="none"/>
<path d="M353.45 254.81 L351.45 258.41 L355.45 258.41 Z" fill="#111111"/>
<path d="M375.82 255.06 V266.18 M374.37 255.06 H377.27 M374.37 266.18 H377.27" stroke="#111111" stroke-width="1.45" fill="none"/>
<path d="M375.82 258.52 L373.82 262.12 L377.82 262.12 Z" fill="#111111"/>
<path d="M385.45 253.20 V271.74 M384.00 253.20 H386.90 M384.00 271.74 H386.90" stroke="#111111" stroke-width="1.45" fill="none"/>
<path d="M385.45 260.37 L383.45 263.97 L387.45 263.97 Z" fill="#111111"/>
<path d="M395.08 251.35 V269.89 M393.63 251.35 H396.53 M393.63 269.89 H396.53" stroke="#111111" stroke-width="1.45" fill="none"/>
<path d="M395.08 258.52 L393.08 262.12 L397.08 262.12 Z" fill="#111111"/>
<path d="M417.45 233.74 V239.30 M416.00 233.74 H418.90 M416.00 239.30 H418.90" stroke="#111111" stroke-width="1.45" fill="none"/>
<path d="M417.45 234.42 L415.45 238.02 L419.45 238.02 Z" fill="#111111"/>
<path d="M289.45 268.35 L290.26 268.34 L291.06 268.34 L291.87 268.34 L292.67 268.33 L293.48 268.33 L294.28 268.33 L295.09 268.32 L295.89 268.32 L296.70 268.31 L297.50 268.31 L298.31 268.30 L299.11 268.30 L299.92 268.29 L300.72 268.29 L301.53 268.28 L302.33 268.28 L303.14 268.27 L303.94 268.26 L304.75 268.26 L305.55 268.25 L306.36 268.24 L307.16 268.23 L307.97 268.22 L308.77 268.22 L309.58 268.21 L310.38 268.20 L311.19 268.19 L311.99 268.18 L312.80 268.17 L313.60 268.15 L314.41 268.14 L315.21 268.13 L316.02 268.12 L316.82 268.10 L317.63 268.09 L318.43 268.07 L319.24 268.06 L320.04 268.04 L320.85 268.03 L321.65 268.01 L322.46 267.99 L323.26 267.97 L324.07 267.95 L324.87 267.93 L325.68 267.91 L326.48 267.88 L327.29 267.86 L328.09 267.83 L328.90 267.81 L329.70 267.78 L330.51 267.75 L331.31 267.72 L332.12 267.69 L332.92 267.66 L333.73 267.62 L334.53 267.59 L335.34 267.55 L336.14 267.51 L336.95 267.47 L337.75 267.43 L338.56 267.38 L339.36 267.34 L340.17 267.29 L340.97 267.24 L341.78 267.18 L342.58 267.13 L343.39 267.07 L344.19 267.01 L345.00 266.95 L345.80 266.88 L346.61 266.81 L347.41 266.74 L348.22 266.66 L349.02 266.59 L349.83 266.50 L350.63 266.42 L351.44 266.33 L352.24 266.24 L353.05 266.14 L353.85 266.04 L354.66 265.93 L355.46 265.82 L356.27 265.71 L357.07 265.59 L357.88 265.47 L358.68 265.34 L359.49 265.20 L360.29 265.06 L361.10 264.91 L361.90 264.76 L362.71 264.60 L363.51 264.43 L364.32 264.26 L365.12 264.08 L365.93 263.89 L366.73 263.70 L367.54 263.50 L368.34 263.28 L369.15 263.07 L369.95 262.84 L370.76 262.60 L371.56 262.35 L372.37 262.10 L373.17 261.83 L373.98 261.55 L374.78 261.27 L375.59 260.97 L376.39 260.66 L377.20 260.34 L378.00 260.01 L378.81 259.66 L379.61 259.30 L380.42 258.93 L381.22 258.55 L382.03 258.16 L382.83 257.75 L383.64 257.32 L384.44 256.88 L385.25 256.43 L386.05 255.96 L386.86 255.48 L387.66 254.98 L388.47 254.47 L389.27 253.94 L390.08 253.40 L390.88 252.84 L391.69 252.26 L392.49 251.67 L393.30 251.06 L394.10 250.43 L394.91 249.79 L395.71 249.13 L396.52 248.46 L397.32 247.77 L398.13 247.06 L398.93 246.34 L399.74 245.60 L400.54 244.85 L401.35 244.08 L402.15 243.29 L402.96 242.49 L403.76 241.68 L404.57 240.85 L405.37 240.02 L406.18 239.16 L406.98 238.30 L407.79 237.42 L408.59 236.54 L409.40 235.64 L410.20 234.74 L411.01 233.82 L411.81 232.90 L412.62 231.97 L413.42 231.04 L414.23 230.10 L415.03 229.15 L415.84 228.21 L416.64 227.26 L417.45 226.31" fill="none" stroke="#111111" stroke-width="1.40"/>
<path d="M289.45 267.11 V278.23 M288.00 267.11 H290.90 M288.00 278.23 H290.90" stroke="#111111" stroke-width="1.45" fill="none"/>
<rect x="287.75" y="270.97" width="3.40" height="3.40" fill="#111111"/>
<path d="M321.45 258.77 V269.89 M320.00 258.77 H322.90 M320.00 269.89 H322.90" stroke="#111111" stroke-width="1.45" fill="none"/>
<rect x="319.75" y="262.63" width="3.40" height="3.40" fill="#111111"/>
<path d="M343.82 261.55 V268.96 M342.37 261.55 H345.27 M342.37 268.96 H345.27" stroke="#111111" stroke-width="1.45" fill="none"/>
<rect x="342.12" y="263.56" width="3.40" height="3.40" fill="#111111"/>
<path d="M353.45 255.99 V270.82 M352.00 255.99 H354.90 M352.00 270.82 H354.90" stroke="#111111" stroke-width="1.45" fill="none"/>
<rect x="351.75" y="261.70" width="3.40" height="3.40" fill="#111111"/>
<path d="M375.82 255.06 V266.18 M374.37 255.06 H377.27 M374.37 266.18 H377.27" stroke="#111111" stroke-width="1.45" fill="none"/>
<rect x="374.12" y="258.92" width="3.40" height="3.40" fill="#111111"/>
<rect x="383.75" y="258.92" width="3.40" height="3.40" fill="#111111"/>
<path d="M395.08 238.37 V253.20 M393.63 238.37 H396.53 M393.63 253.20 H396.53" stroke="#111111" stroke-width="1.45" fill="none"/>
<rect x="393.38" y="244.09" width="3.40" height="3.40" fill="#111111"/>
<path d="M417.45 223.54 V229.10 M416.00 223.54 H418.90 M416.00 229.10 H418.90" stroke="#111111" stroke-width="1.45" fill="none"/>
<rect x="415.75" y="224.62" width="3.40" height="3.40" fill="#111111"/>
<circle cx="431.10" cy="198.90" r="1.95" fill="#595959"/>
<text x="440.40" y="202.30" font-size="7.7" textLength="33.40" lengthAdjust="spacing" fill="#1a1a1a" style="stroke-width:0.18px">BYL719</text>
<rect x="429.15" y="209.74" width="3.91" height="3.91" fill="#111111"/>
<text x="440.40" y="215.10" font-size="7.7" textLength="56.60" lengthAdjust="spacing" fill="#1a1a1a" style="stroke-width:0.18px">Palb+BYL719</text>
<path d="M431.10 223.19 L428.80 227.32 L433.40 227.32 Z" fill="#111111"/>
<text x="440.40" y="229.00" font-size="7.7" textLength="44.00" lengthAdjust="spacing" fill="#1a1a1a" style="stroke-width:0.18px">Bliss curve</text>
<path d="M544.60 204.80 V298.50" stroke="#333" stroke-width="1.6" fill="none"/>
<path d="M541.80 297.70 H544.60" stroke="#333" stroke-width="1.2"/>
<text x="541.20" y="300.30" font-size="7.20" font-weight="bold" text-anchor="end" letter-spacing="0.75" fill="#111">0</text>
<path d="M541.80 279.26 H544.60" stroke="#333" stroke-width="1.2"/>
<text x="541.20" y="281.86" font-size="7.20" font-weight="bold" text-anchor="end" letter-spacing="0.75" fill="#111">20</text>
<path d="M541.80 260.82 H544.60" stroke="#333" stroke-width="1.2"/>
<text x="541.20" y="263.42" font-size="7.20" font-weight="bold" text-anchor="end" letter-spacing="0.75" fill="#111">40</text>
<path d="M541.80 242.38 H544.60" stroke="#333" stroke-width="1.2"/>
<text x="541.20" y="244.98" font-size="7.20" font-weight="bold" text-anchor="end" letter-spacing="0.75" fill="#111">60</text>
<path d="M541.80 223.94 H544.60" stroke="#333" stroke-width="1.2"/>
<text x="541.20" y="226.54" font-size="7.20" font-weight="bold" text-anchor="end" letter-spacing="0.75" fill="#111">80</text>
<path d="M541.80 205.50 H544.60" stroke="#333" stroke-width="1.2"/>
<text x="541.20" y="208.10" font-size="7.20" font-weight="bold" text-anchor="end" letter-spacing="0.75" fill="#111">100</text>
<path d="M543.80 297.70 H672.90" stroke="#333" stroke-width="1.6"/>
<path d="M544.60 297.70 V300.50" stroke="#333" stroke-width="1.2"/>
<text x="545.00" y="310.20" font-size="7.20" font-weight="bold" text-anchor="middle" letter-spacing="0.70" fill="#111">0</text>
<path d="M576.50 297.70 V300.50" stroke="#333" stroke-width="1.2"/>
<text x="576.90" y="310.20" font-size="7.20" font-weight="bold" text-anchor="middle" letter-spacing="0.70" fill="#111">0.01</text>
<path d="M608.40 297.70 V300.50" stroke="#333" stroke-width="1.2"/>
<text x="608.80" y="310.20" font-size="7.20" font-weight="bold" text-anchor="middle" letter-spacing="0.70" fill="#111">0.1</text>
<path d="M640.30 297.70 V300.50" stroke="#333" stroke-width="1.2"/>
<text x="640.70" y="310.20" font-size="7.20" font-weight="bold" text-anchor="middle" letter-spacing="0.70" fill="#111">1</text>
<path d="M672.20 297.70 V300.50" stroke="#333" stroke-width="1.2"/>
<text x="672.60" y="310.20" font-size="7.20" font-weight="bold" text-anchor="middle" letter-spacing="0.70" fill="#111">10</text>
<text x="580.40" y="322.30" font-size="7.6" letter-spacing="0.78" fill="#111"><tspan font-weight="bold">[BYL719], </tspan><tspan letter-spacing="0.5">µM</tspan></text>
<text transform="translate(515.00 250.40) rotate(-90)" font-size="7.7" font-weight="bold" text-anchor="middle" textLength="131.6" lengthAdjust="spacing" fill="#111">Inhibition of cell proliferation</text>
<text transform="translate(526.50 249.20) rotate(-90)" font-size="7.7" font-weight="bold" text-anchor="middle" textLength="38.3" lengthAdjust="spacing" fill="#111">(% vs C)</text>
<path d="M544.60 296.45 L545.40 296.43 L546.21 296.40 L547.01 296.37 L547.81 296.35 L548.61 296.32 L549.42 296.29 L550.22 296.26 L551.02 296.23 L551.82 296.20 L552.63 296.17 L553.43 296.14 L554.23 296.11 L555.03 296.08 L555.84 296.04 L556.64 296.01 L557.44 295.98 L558.24 295.94 L559.05 295.90 L559.85 295.87 L560.65 295.83 L561.45 295.79 L562.26 295.75 L563.06 295.71 L563.86 295.67 L564.66 295.63 L565.47 295.59 L566.27 295.55 L567.07 295.50 L567.87 295.46 L568.68 295.41 L569.48 295.37 L570.28 295.32 L571.08 295.27 L571.89 295.22 L572.69 295.17 L573.49 295.12 L574.29 295.07 L575.10 295.02 L575.90 294.96 L576.70 294.91 L577.50 294.85 L578.31 294.79 L579.11 294.73 L579.91 294.67 L580.71 294.61 L581.52 294.55 L582.32 294.49 L583.12 294.42 L583.92 294.36 L584.73 294.29 L585.53 294.22 L586.33 294.15 L587.13 294.08 L587.94 294.01 L588.74 293.93 L589.54 293.86 L590.34 293.78 L591.15 293.70 L591.95 293.62 L592.75 293.54 L593.55 293.45 L594.36 293.37 L595.16 293.28 L595.96 293.19 L596.76 293.10 L597.57 293.01 L598.37 292.92 L599.17 292.82 L599.97 292.73 L600.78 292.63 L601.58 292.53 L602.38 292.42 L603.18 292.32 L603.99 292.21 L604.79 292.10 L605.59 291.99 L606.39 291.88 L607.20 291.76 L608.00 291.64 L608.80 291.52 L609.60 291.40 L610.41 291.27 L611.21 291.15 L612.01 291.02 L612.81 290.88 L613.62 290.75 L614.42 290.61 L615.22 290.47 L616.02 290.33 L616.83 290.18 L617.63 290.03 L618.43 289.88 L619.23 289.73 L620.04 289.57 L620.84 289.41 L621.64 289.25 L622.44 289.08 L623.25 288.91 L624.05 288.74 L624.85 288.57 L625.65 288.39 L626.46 288.20 L627.26 288.02 L628.06 287.83 L628.86 287.64 L629.67 287.44 L630.47 287.24 L631.27 287.03 L632.07 286.83 L632.88 286.62 L633.68 286.40 L634.48 286.18 L635.28 285.96 L636.09 285.73 L636.89 285.50 L637.69 285.26 L638.49 285.02 L639.30 284.77 L640.10 284.53 L640.90 284.27 L641.70 284.01 L642.51 283.75 L643.31 283.48 L644.11 283.21 L644.91 282.93 L645.72 282.65 L646.52 282.36 L647.32 282.07 L648.12 281.77 L648.93 281.46 L649.73 281.15 L650.53 280.84 L651.33 280.52 L652.14 280.19 L652.94 279.86 L653.74 279.52 L654.54 279.18 L655.35 278.83 L656.15 278.47 L656.95 278.11 L657.75 277.74 L658.56 277.37 L659.36 276.99 L660.16 276.60 L660.96 276.21 L661.77 275.80 L662.57 275.40 L663.37 274.98 L664.17 274.56 L664.98 274.13 L665.78 273.70 L666.58 273.25 L667.38 272.80 L668.19 272.34 L668.99 271.88 L669.79 271.41 L670.59 270.92 L671.40 270.44 L672.20 269.94" fill="none" stroke="#595959" stroke-width="1.20"/>
<path d="M544.60 291.25 V297.70 M543.15 291.25 H546.05 M543.15 297.70 H546.05" stroke="#595959" stroke-width="1.25" fill="none"/>
<circle cx="544.60" cy="295.86" r="1.70" fill="#595959"/>
<path d="M576.50 285.71 V293.09 M575.05 285.71 H577.95 M575.05 293.09 H577.95" stroke="#595959" stroke-width="1.25" fill="none"/>
<circle cx="576.50" cy="289.40" r="1.70" fill="#595959"/>
<path d="M608.40 283.87 V289.40 M606.95 283.87 H609.85 M606.95 289.40 H609.85" stroke="#595959" stroke-width="1.25" fill="none"/>
<circle cx="608.40" cy="286.64" r="1.70" fill="#595959"/>
<path d="M630.70 280.18 V285.71 M629.25 280.18 H632.15 M629.25 285.71 H632.15" stroke="#595959" stroke-width="1.25" fill="none"/>
<circle cx="630.70" cy="282.95" r="1.70" fill="#595959"/>
<circle cx="640.30" cy="284.79" r="1.70" fill="#595959"/>
<path d="M649.90 280.18 V283.87 M648.45 280.18 H651.35 M648.45 283.87 H651.35" stroke="#595959" stroke-width="1.25" fill="none"/>
<circle cx="649.90" cy="282.03" r="1.70" fill="#595959"/>
<path d="M672.20 267.27 V270.96 M670.75 267.27 H673.65 M670.75 270.96 H673.65" stroke="#595959" stroke-width="1.25" fill="none"/>
<circle cx="672.20" cy="269.12" r="1.70" fill="#595959"/>
<path d="M544.60 277.95 L545.40 277.93 L546.21 277.91 L547.01 277.89 L547.81 277.87 L548.61 277.85 L549.42 277.83 L550.22 277.81 L551.02 277.79 L551.82 277.77 L552.63 277.74 L553.43 277.72 L554.23 277.70 L555.03 277.67 L555.84 277.65 L556.64 277.62 L557.44 277.60 L558.24 277.57 L559.05 277.54 L559.85 277.52 L560.65 277.49 L561.45 277.46 L562.26 277.43 L563.06 277.40 L563.86 277.37 L564.66 277.34 L565.47 277.31 L566.27 277.27 L567.07 277.24 L567.87 277.21 L568.68 277.17 L569.48 277.13 L570.28 277.10 L571.08 277.06 L571.89 277.02 L572.69 276.99 L573.49 276.95 L574.29 276.91 L575.10 276.86 L575.90 276.82 L576.70 276.78 L577.50 276.74 L578.31 276.69 L579.11 276.65 L579.91 276.60 L580.71 276.55 L581.52 276.50 L582.32 276.45 L583.12 276.40 L583.92 276.35 L584.73 276.30 L585.53 276.24 L586.33 276.19 L587.13 276.13 L587.94 276.08 L588.74 276.02 L589.54 275.96 L590.34 275.90 L591.15 275.83 L591.95 275.77 L592.75 275.71 L593.55 275.64 L594.36 275.57 L595.16 275.50 L595.96 275.43 L596.76 275.36 L597.57 275.29 L598.37 275.21 L599.17 275.13 L599.97 275.06 L600.78 274.98 L601.58 274.90 L602.38 274.81 L603.18 274.73 L603.99 274.64 L604.79 274.55 L605.59 274.46 L606.39 274.37 L607.20 274.28 L608.00 274.18 L608.80 274.08 L609.60 273.98 L610.41 273.88 L611.21 273.77 L612.01 273.67 L612.81 273.56 L613.62 273.45 L614.42 273.34 L615.22 273.22 L616.02 273.10 L616.83 272.98 L617.63 272.86 L618.43 272.73 L619.23 272.61 L620.04 272.48 L620.84 272.34 L621.64 272.21 L622.44 272.07 L623.25 271.93 L624.05 271.78 L624.85 271.64 L625.65 271.49 L626.46 271.33 L627.26 271.18 L628.06 271.02 L628.86 270.86 L629.67 270.69 L630.47 270.52 L631.27 270.35 L632.07 270.17 L632.88 269.99 L633.68 269.81 L634.48 269.62 L635.28 269.43 L636.09 269.24 L636.89 269.04 L637.69 268.84 L638.49 268.63 L639.30 268.42 L640.10 268.21 L640.90 267.99 L641.70 267.77 L642.51 267.54 L643.31 267.31 L644.11 267.07 L644.91 266.83 L645.72 266.59 L646.52 266.34 L647.32 266.08 L648.12 265.82 L648.93 265.56 L649.73 265.29 L650.53 265.01 L651.33 264.73 L652.14 264.45 L652.94 264.16 L653.74 263.86 L654.54 263.56 L655.35 263.25 L656.15 262.93 L656.95 262.62 L657.75 262.29 L658.56 261.96 L659.36 261.62 L660.16 261.28 L660.96 260.93 L661.77 260.57 L662.57 260.20 L663.37 259.83 L664.17 259.46 L664.98 259.07 L665.78 258.68 L666.58 258.28 L667.38 257.88 L668.19 257.47 L668.99 257.05 L669.79 256.62 L670.59 256.19 L671.40 255.74 L672.20 255.29" fill="none" stroke="#111111" stroke-width="1.10" stroke-dasharray="2.8 1.7"/>
<path d="M544.60 270.96 V293.09 M543.15 270.96 H546.05 M543.15 293.09 H546.05" stroke="#111111" stroke-width="1.45" fill="none"/>
<path d="M544.60 279.93 L542.60 283.53 L546.60 283.53 Z" fill="#111111"/>
<path d="M576.50 266.35 V288.48 M575.05 266.35 H577.95 M575.05 288.48 H577.95" stroke="#111111" stroke-width="1.45" fill="none"/>
<path d="M576.50 275.32 L574.50 278.92 L578.50 278.92 Z" fill="#111111"/>
<path d="M598.80 270.96 V291.25 M597.35 270.96 H600.25 M597.35 291.25 H600.25" stroke="#111111" stroke-width="1.45" fill="none"/>
<path d="M598.80 279.00 L596.80 282.60 L600.80 282.60 Z" fill="#111111"/>
<path d="M608.40 267.27 V278.34 M606.95 267.27 H609.85 M606.95 278.34 H609.85" stroke="#111111" stroke-width="1.45" fill="none"/>
<path d="M608.40 270.71 L606.40 274.31 L610.40 274.31 Z" fill="#111111"/>
<path d="M630.70 262.66 V281.10 M629.25 262.66 H632.15 M629.25 281.10 H632.15" stroke="#111111" stroke-width="1.45" fill="none"/>
<path d="M630.70 269.78 L628.70 273.38 L632.70 273.38 Z" fill="#111111"/>
<path d="M640.30 265.43 V270.96 M638.85 265.43 H641.75 M638.85 270.96 H641.75" stroke="#111111" stroke-width="1.45" fill="none"/>
<path d="M640.30 266.10 L638.30 269.70 L642.30 269.70 Z" fill="#111111"/>
<path d="M649.90 262.66 V270.04 M648.45 262.66 H651.35 M648.45 270.04 H651.35" stroke="#111111" stroke-width="1.45" fill="none"/>
<path d="M649.90 264.25 L647.90 267.85 L651.90 267.85 Z" fill="#111111"/>
<path d="M672.20 253.44 V262.66 M670.75 253.44 H673.65 M670.75 262.66 H673.65" stroke="#111111" stroke-width="1.45" fill="none"/>
<path d="M672.20 255.95 L670.20 259.55 L674.20 259.55 Z" fill="#111111"/>
<path d="M544.60 278.92 L545.40 278.90 L546.21 278.89 L547.01 278.88 L547.81 278.87 L548.61 278.85 L549.42 278.84 L550.22 278.82 L551.02 278.81 L551.82 278.79 L552.63 278.78 L553.43 278.76 L554.23 278.74 L555.03 278.73 L555.84 278.71 L556.64 278.69 L557.44 278.67 L558.24 278.65 L559.05 278.63 L559.85 278.61 L560.65 278.59 L561.45 278.57 L562.26 278.55 L563.06 278.53 L563.86 278.50 L564.66 278.48 L565.47 278.46 L566.27 278.43 L567.07 278.41 L567.87 278.38 L568.68 278.35 L569.48 278.33 L570.28 278.30 L571.08 278.27 L571.89 278.24 L572.69 278.21 L573.49 278.18 L574.29 278.14 L575.10 278.11 L575.90 278.08 L576.70 278.04 L577.50 278.01 L578.31 277.97 L579.11 277.93 L579.91 277.89 L580.71 277.85 L581.52 277.81 L582.32 277.77 L583.12 277.73 L583.92 277.69 L584.73 277.64 L585.53 277.59 L586.33 277.55 L587.13 277.50 L587.94 277.45 L588.74 277.40 L589.54 277.34 L590.34 277.29 L591.15 277.23 L591.95 277.18 L592.75 277.12 L593.55 277.06 L594.36 277.00 L595.16 276.93 L595.96 276.87 L596.76 276.80 L597.57 276.74 L598.37 276.67 L599.17 276.60 L599.97 276.52 L600.78 276.45 L601.58 276.37 L602.38 276.29 L603.18 276.21 L603.99 276.13 L604.79 276.04 L605.59 275.95 L606.39 275.87 L607.20 275.77 L608.00 275.68 L608.80 275.58 L609.60 275.48 L610.41 275.38 L611.21 275.28 L612.01 275.17 L612.81 275.06 L613.62 274.95 L614.42 274.84 L615.22 274.72 L616.02 274.60 L616.83 274.48 L617.63 274.35 L618.43 274.23 L619.23 274.09 L620.04 273.96 L620.84 273.82 L621.64 273.68 L622.44 273.53 L623.25 273.39 L624.05 273.23 L624.85 273.08 L625.65 272.92 L626.46 272.76 L627.26 272.59 L628.06 272.42 L628.86 272.25 L629.67 272.07 L630.47 271.89 L631.27 271.70 L632.07 271.51 L632.88 271.32 L633.68 271.12 L634.48 270.91 L635.28 270.71 L636.09 270.49 L636.89 270.28 L637.69 270.05 L638.49 269.83 L639.30 269.60 L640.10 269.36 L640.90 269.12 L641.70 268.87 L642.51 268.62 L643.31 268.37 L644.11 268.10 L644.91 267.84 L645.72 267.56 L646.52 267.29 L647.32 267.00 L648.12 266.72 L648.93 266.42 L649.73 266.12 L650.53 265.82 L651.33 265.50 L652.14 265.19 L652.94 264.86 L653.74 264.53 L654.54 264.20 L655.35 263.86 L656.15 263.51 L656.95 263.16 L657.75 262.80 L658.56 262.43 L659.36 262.06 L660.16 261.68 L660.96 261.30 L661.77 260.91 L662.57 260.51 L663.37 260.11 L664.17 259.70 L664.98 259.29 L665.78 258.87 L666.58 258.44 L667.38 258.01 L668.19 257.57 L668.99 257.12 L669.79 256.67 L670.59 256.22 L671.40 255.75 L672.20 255.28" fill="none" stroke="#111111" stroke-width="1.40"/>
<rect x="542.90" y="276.64" width="3.40" height="3.40" fill="#111111"/>
<path d="M576.50 271.88 V286.64 M575.05 271.88 H577.95 M575.05 286.64 H577.95" stroke="#111111" stroke-width="1.45" fill="none"/>
<rect x="574.80" y="277.56" width="3.40" height="3.40" fill="#111111"/>
<path d="M598.80 271.88 V282.95 M597.35 271.88 H600.25 M597.35 282.95 H600.25" stroke="#111111" stroke-width="1.45" fill="none"/>
<rect x="597.10" y="275.72" width="3.40" height="3.40" fill="#111111"/>
<path d="M608.40 264.51 V275.57 M606.95 264.51 H609.85 M606.95 275.57 H609.85" stroke="#111111" stroke-width="1.45" fill="none"/>
<rect x="606.70" y="268.34" width="3.40" height="3.40" fill="#111111"/>
<path d="M630.70 264.51 V281.10 M629.25 264.51 H632.15 M629.25 281.10 H632.15" stroke="#111111" stroke-width="1.45" fill="none"/>
<rect x="629.00" y="271.11" width="3.40" height="3.40" fill="#111111"/>
<path d="M640.30 267.27 V270.96 M638.85 267.27 H641.75 M638.85 270.96 H641.75" stroke="#111111" stroke-width="1.45" fill="none"/>
<rect x="638.60" y="267.42" width="3.40" height="3.40" fill="#111111"/>
<path d="M649.90 263.59 V270.96 M648.45 263.59 H651.35 M648.45 270.96 H651.35" stroke="#111111" stroke-width="1.45" fill="none"/>
<rect x="648.20" y="265.57" width="3.40" height="3.40" fill="#111111"/>
<path d="M672.20 250.12 V261.19 M670.75 250.12 H673.65 M670.75 261.19 H673.65" stroke="#111111" stroke-width="1.45" fill="none"/>
<rect x="670.50" y="253.96" width="3.40" height="3.40" fill="#111111"/>
<circle cx="684.70" cy="198.90" r="1.95" fill="#595959"/>
<text x="694.20" y="202.80" font-size="7.7" textLength="35.20" lengthAdjust="spacing" fill="#1a1a1a" style="stroke-width:0.18px">BYL 719</text>
<rect x="682.75" y="208.64" width="3.91" height="3.91" fill="#111111"/>
<text x="694.20" y="214.50" font-size="7.7" textLength="59.10" lengthAdjust="spacing" fill="#1a1a1a" style="stroke-width:0.18px">Palb+ BYL719</text>
<path d="M684.70 220.49 L682.40 224.62 L687.00 224.62 Z" fill="#111111"/>
<text x="694.20" y="226.20" font-size="7.7" textLength="43.80" lengthAdjust="spacing" fill="#1a1a1a" style="stroke-width:0.18px">Bliss curve</text>
<path d="M147.05 366.30 V467.80" stroke="#111" stroke-width="1.3" fill="none"/>
<path d="M144.55 467.20 H147.05" stroke="#111" stroke-width="1.1"/>
<text x="142.15" y="469.60" font-size="6.40" font-weight="bold" text-anchor="end" letter-spacing="0.90" fill="#111">0</text>
<path d="M144.55 417.00 H147.05" stroke="#111" stroke-width="1.1"/>
<text x="142.15" y="419.40" font-size="6.40" font-weight="bold" text-anchor="end" letter-spacing="0.90" fill="#111">10</text>
<path d="M144.55 366.80 H147.05" stroke="#111" stroke-width="1.1"/>
<text x="142.15" y="369.20" font-size="6.40" font-weight="bold" text-anchor="end" letter-spacing="0.90" fill="#111">20</text>
<path d="M146.45 467.20 H305.60" stroke="#111" stroke-width="1.3"/>
<path d="M160.20 452.14 V447.12 M155.90 447.12 H164.50" stroke="#111" stroke-width="1.4" fill="none"/>
<rect x="151.50" y="452.14" width="17.40" height="15.06" fill="url(#hatch)" stroke="#111" stroke-width="1.3"/>
<path d="M160.20 467.20 V470.00" stroke="#111" stroke-width="1.1"/>
<text transform="translate(162.60 477.50) rotate(-43)" font-size="7.2" font-weight="bold" text-anchor="end" letter-spacing="1.8" fill="#111" style="stroke-width:0.3px">C</text>
<path d="M186.40 432.06 V417.00 M182.10 417.00 H190.70" stroke="#111" stroke-width="1.4" fill="none"/>
<rect x="177.70" y="432.06" width="17.40" height="35.14" fill="url(#hatch)" stroke="#111" stroke-width="1.3"/>
<path d="M186.40 467.20 V470.00" stroke="#111" stroke-width="1.1"/>
<text transform="translate(188.80 477.50) rotate(-43)" font-size="7.2" font-weight="bold" text-anchor="end" letter-spacing="1.8" fill="#111" style="stroke-width:0.3px">BEZ235</text>
<path d="M212.60 442.10 V437.08 M208.30 437.08 H216.90" stroke="#111" stroke-width="1.4" fill="none"/>
<rect x="203.90" y="442.10" width="17.40" height="25.10" fill="url(#hatch)" stroke="#111" stroke-width="1.3"/>
<path d="M212.60 467.20 V470.00" stroke="#111" stroke-width="1.1"/>
<text transform="translate(215.00 477.50) rotate(-43)" font-size="7.2" font-weight="bold" text-anchor="end" letter-spacing="1.8" fill="#111" style="stroke-width:0.3px">BYL719</text>
<path d="M238.80 437.08 V427.04 M234.50 427.04 H243.10" stroke="#111" stroke-width="1.4" fill="none"/>
<rect x="230.10" y="437.08" width="17.40" height="30.12" fill="url(#hatch)" stroke="#111" stroke-width="1.3"/>
<path d="M238.80 467.20 V470.00" stroke="#111" stroke-width="1.1"/>
<text transform="translate(241.20 477.50) rotate(-43)" font-size="7.2" font-weight="bold" text-anchor="end" letter-spacing="1.8" fill="#111" style="stroke-width:0.3px">PALB</text>
<path d="M265.00 386.88 V371.82 M260.70 371.82 H269.30" stroke="#111" stroke-width="1.4" fill="none"/>
<rect x="256.30" y="386.88" width="17.40" height="80.32" fill="url(#hatch)" stroke="#111" stroke-width="1.3"/>
<path d="M265.00 467.20 V470.00" stroke="#111" stroke-width="1.1"/>
<text transform="translate(267.40 477.50) rotate(-43)" font-size="7.2" font-weight="bold" text-anchor="end" letter-spacing="1.8" fill="#111" style="stroke-width:0.3px">PALB+BEZ235</text>
<path d="M291.20 396.92 V381.86 M286.90 381.86 H295.50" stroke="#111" stroke-width="1.4" fill="none"/>
<rect x="282.50" y="396.92" width="17.40" height="70.28" fill="url(#hatch)" stroke="#111" stroke-width="1.3"/>
<path d="M291.20 467.20 V470.00" stroke="#111" stroke-width="1.1"/>
<text transform="translate(293.60 477.50) rotate(-43)" font-size="7.2" font-weight="bold" text-anchor="end" letter-spacing="1.8" fill="#111" style="stroke-width:0.3px">PALB+BYL719</text>
<text transform="translate(128.00 416.95) rotate(-90)" font-size="7.0" font-weight="bold" text-anchor="middle" textLength="61" lengthAdjust="spacing" fill="#111">cell death (%)</text>
<text x="265.20" y="369.60" font-size="6.40" font-weight="normal" text-anchor="middle" letter-spacing="-0.10" fill="#111" style="stroke-width:0.35px">***</text>
<text x="265.60" y="364.30" font-size="7.80" font-weight="bold" text-anchor="middle" letter-spacing="-0.90" fill="#111" style="stroke-width:0.15px">##</text>
<text x="291.10" y="379.60" font-size="6.40" font-weight="normal" text-anchor="middle" letter-spacing="-0.10" fill="#111" style="stroke-width:0.35px">***</text>
<text x="291.30" y="371.60" font-size="7.20" font-weight="bold" text-anchor="middle" letter-spacing="-0.50" fill="#111" style="stroke-width:0.3px">§§</text>
<path d="M480.60 373.40 V465.30" stroke="#111" stroke-width="1.3" fill="none"/>
<path d="M478.10 464.70 H480.60" stroke="#111" stroke-width="1.1"/>
<text x="476.40" y="467.10" font-size="6.60" font-weight="bold" text-anchor="end" letter-spacing="0.90" fill="#111">0</text>
<path d="M478.10 442.00 H480.60" stroke="#111" stroke-width="1.1"/>
<text x="476.40" y="444.40" font-size="6.60" font-weight="bold" text-anchor="end" letter-spacing="0.90" fill="#111">20</text>
<path d="M478.10 419.30 H480.60" stroke="#111" stroke-width="1.1"/>
<text x="476.40" y="421.70" font-size="6.60" font-weight="bold" text-anchor="end" letter-spacing="0.90" fill="#111">40</text>
<path d="M478.10 396.60 H480.60" stroke="#111" stroke-width="1.1"/>
<text x="476.40" y="399.00" font-size="6.60" font-weight="bold" text-anchor="end" letter-spacing="0.90" fill="#111">60</text>
<path d="M478.10 373.90 H480.60" stroke="#111" stroke-width="1.1"/>
<text x="476.40" y="376.30" font-size="6.60" font-weight="bold" text-anchor="end" letter-spacing="0.90" fill="#111">80</text>
<path d="M480.00 464.70 H629.50" stroke="#111" stroke-width="1.3"/>
<path d="M490.90 437.35 V432.81 M489.00 432.81 H492.80" stroke="#111" stroke-width="1.4" fill="none"/>
<rect x="484.00" y="437.35" width="13.80" height="27.35" fill="#8c8c8c" stroke="#111" stroke-width="1.3"/>
<path d="M490.90 464.70 V467.50" stroke="#111" stroke-width="1.1"/>
<text transform="translate(492.40 474.60) rotate(-42)" font-size="6.6" font-weight="bold" text-anchor="end" letter-spacing="1.6" fill="#111" style="stroke-width:0.3px">BEZ 20 nM</text>
<path d="M512.20 404.77 V403.86 M510.30 403.86 H514.10" stroke="#111" stroke-width="1.4" fill="none"/>
<rect x="505.30" y="404.77" width="13.80" height="59.93" fill="#8c8c8c" stroke="#111" stroke-width="1.3"/>
<path d="M512.20 464.70 V467.50" stroke="#111" stroke-width="1.1"/>
<text transform="translate(513.70 474.60) rotate(-42)" font-size="6.6" font-weight="bold" text-anchor="end" letter-spacing="1.6" fill="#111" style="stroke-width:0.3px">BEZ 50 nM</text>
<path d="M533.50 438.37 V431.56 M531.60 431.56 H535.40" stroke="#111" stroke-width="1.4" fill="none"/>
<rect x="526.60" y="438.37" width="13.80" height="26.33" fill="#8c8c8c" stroke="#111" stroke-width="1.3"/>
<path d="M533.50 464.70 V467.50" stroke="#111" stroke-width="1.1"/>
<text transform="translate(535.00 474.60) rotate(-42)" font-size="6.6" font-weight="bold" text-anchor="end" letter-spacing="1.6" fill="#111" style="stroke-width:0.3px">BYL 5 µM</text>
<path d="M554.80 436.89 V431.22 M552.90 431.22 H556.70" stroke="#111" stroke-width="1.4" fill="none"/>
<rect x="547.90" y="436.89" width="13.80" height="27.81" fill="#8c8c8c" stroke="#111" stroke-width="1.3"/>
<path d="M554.80 464.70 V467.50" stroke="#111" stroke-width="1.1"/>
<text transform="translate(556.30 474.60) rotate(-42)" font-size="6.6" font-weight="bold" text-anchor="end" letter-spacing="1.6" fill="#111" style="stroke-width:0.3px">PALB</text>
<path d="M576.10 410.67 V404.09 M574.20 404.09 H578.00" stroke="#111" stroke-width="1.4" fill="none"/>
<rect x="569.20" y="410.67" width="13.80" height="54.03" fill="#8c8c8c" stroke="#111" stroke-width="1.3"/>
<path d="M576.10 464.70 V467.50" stroke="#111" stroke-width="1.1"/>
<text transform="translate(577.60 474.60) rotate(-42)" font-size="6.6" font-weight="bold" text-anchor="end" letter-spacing="1.6" fill="#111" style="stroke-width:0.3px">PALB+BEZ 20 nM</text>
<path d="M597.40 384.12 V382.41 M595.50 382.41 H599.30" stroke="#111" stroke-width="1.4" fill="none"/>
<rect x="590.50" y="384.12" width="13.80" height="80.58" fill="#8c8c8c" stroke="#111" stroke-width="1.3"/>
<path d="M597.40 464.70 V467.50" stroke="#111" stroke-width="1.1"/>
<text transform="translate(598.90 474.60) rotate(-42)" font-size="6.6" font-weight="bold" text-anchor="end" letter-spacing="1.6" fill="#111" style="stroke-width:0.3px">PALB+BEZ 50 nM</text>
<path d="M618.70 406.93 V404.43 M616.80 404.43 H620.60" stroke="#111" stroke-width="1.4" fill="none"/>
<rect x="611.80" y="406.93" width="13.80" height="57.77" fill="#8c8c8c" stroke="#111" stroke-width="1.3"/>
<path d="M618.70 464.70 V467.50" stroke="#111" stroke-width="1.1"/>
<text transform="translate(620.20 474.60) rotate(-42)" font-size="6.6" font-weight="bold" text-anchor="end" letter-spacing="1.6" fill="#111" style="stroke-width:0.3px">PALB+BYL 5 µM</text>
<text transform="translate(451.60 419.10) rotate(-90)" font-size="7.2" font-weight="bold" text-anchor="middle" textLength="119" lengthAdjust="spacing" fill="#111">Inhibition of spheroid growth</text>
<text transform="translate(463.60 418.50) rotate(-90)" font-size="7.2" font-weight="bold" text-anchor="middle" textLength="36.6" lengthAdjust="spacing" fill="#111">(% vs C)</text>
<text x="576.00" y="402.70" font-size="6.00" font-weight="normal" text-anchor="middle" letter-spacing="-0.10" fill="#111" style="stroke-width:0.3px">****</text>
<text x="597.60" y="380.00" font-size="8.00" font-weight="normal" text-anchor="middle" letter-spacing="-0.50" fill="#111" font-style="italic" style="stroke-width:0.25px">###</text>
<text x="618.60" y="402.40" font-size="7.80" font-weight="normal" text-anchor="middle" letter-spacing="-0.30" fill="#111" style="stroke-width:0.3px">§§§§</text>
</svg></body></html>
